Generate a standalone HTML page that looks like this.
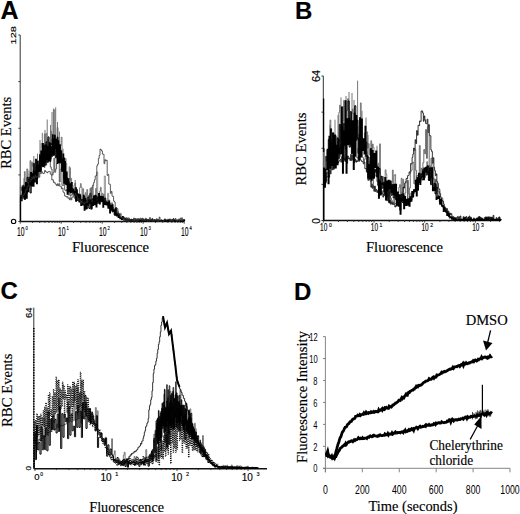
<!DOCTYPE html>
<html><head><meta charset="utf-8"><style>
html,body{margin:0;padding:0;background:#fff;width:520px;height:514px;overflow:hidden}
svg{display:block}
text{stroke:#000;stroke-width:0.15px}
</style></head><body>
<svg width="520" height="514" viewBox="0 0 520 514">
<rect width="520" height="514" fill="#fff"/>
<text x="0.6" y="19.4" font-family='"Liberation Sans", sans-serif' font-size="25" font-weight="bold" text-anchor="start" fill="#000" >A</text>
<text x="295" y="19.3" font-family='"Liberation Sans", sans-serif' font-size="24" font-weight="bold" text-anchor="start" fill="#000" >B</text>
<text x="0.5" y="298.5" font-family='"Liberation Sans", sans-serif' font-size="24" font-weight="bold" text-anchor="start" fill="#000" >C</text>
<text x="294" y="300" font-family='"Liberation Sans", sans-serif' font-size="24" font-weight="bold" text-anchor="start" fill="#000" >D</text>
<line x1="20.2" y1="35" x2="20.2" y2="221.5" stroke="#333" stroke-width="1"/>
<line x1="20.2" y1="221.5" x2="184.2" y2="221.5" stroke="#111" stroke-width="1.3"/>
<line x1="18.4" y1="35.0" x2="20.2" y2="35.0" stroke="#333" stroke-width="1"/>
<line x1="18.4" y1="81.625" x2="20.2" y2="81.625" stroke="#333" stroke-width="1"/>
<line x1="18.4" y1="128.25" x2="20.2" y2="128.25" stroke="#333" stroke-width="1"/>
<line x1="18.4" y1="174.875" x2="20.2" y2="174.875" stroke="#333" stroke-width="1"/>
<line x1="18.4" y1="221.5" x2="20.2" y2="221.5" stroke="#333" stroke-width="1"/>
<line x1="20.2" y1="221.5" x2="20.2" y2="223.7" stroke="#333" stroke-width="0.9"/>
<line x1="32.54222982222323" y1="221.5" x2="32.54222982222323" y2="223.0" stroke="#333" stroke-width="0.9"/>
<line x1="39.761971443506155" y1="221.5" x2="39.761971443506155" y2="223.0" stroke="#333" stroke-width="0.9"/>
<line x1="44.88445964444646" y1="221.5" x2="44.88445964444646" y2="223.0" stroke="#333" stroke-width="0.9"/>
<line x1="48.85777017777677" y1="221.5" x2="48.85777017777677" y2="223.0" stroke="#333" stroke-width="0.9"/>
<line x1="52.10420126572939" y1="221.5" x2="52.10420126572939" y2="223.0" stroke="#333" stroke-width="0.9"/>
<line x1="54.84901964058453" y1="221.5" x2="54.84901964058453" y2="223.0" stroke="#333" stroke-width="0.9"/>
<line x1="57.22668946666968" y1="221.5" x2="57.22668946666968" y2="223.0" stroke="#333" stroke-width="0.9"/>
<line x1="59.32394288701232" y1="221.5" x2="59.32394288701232" y2="223.0" stroke="#333" stroke-width="0.9"/>
<line x1="61.2" y1="221.5" x2="61.2" y2="223.7" stroke="#333" stroke-width="0.9"/>
<line x1="73.54222982222323" y1="221.5" x2="73.54222982222323" y2="223.0" stroke="#333" stroke-width="0.9"/>
<line x1="80.76197144350616" y1="221.5" x2="80.76197144350616" y2="223.0" stroke="#333" stroke-width="0.9"/>
<line x1="85.88445964444647" y1="221.5" x2="85.88445964444647" y2="223.0" stroke="#333" stroke-width="0.9"/>
<line x1="89.85777017777677" y1="221.5" x2="89.85777017777677" y2="223.0" stroke="#333" stroke-width="0.9"/>
<line x1="93.10420126572939" y1="221.5" x2="93.10420126572939" y2="223.0" stroke="#333" stroke-width="0.9"/>
<line x1="95.84901964058453" y1="221.5" x2="95.84901964058453" y2="223.0" stroke="#333" stroke-width="0.9"/>
<line x1="98.22668946666968" y1="221.5" x2="98.22668946666968" y2="223.0" stroke="#333" stroke-width="0.9"/>
<line x1="100.32394288701232" y1="221.5" x2="100.32394288701232" y2="223.0" stroke="#333" stroke-width="0.9"/>
<line x1="102.2" y1="221.5" x2="102.2" y2="223.7" stroke="#333" stroke-width="0.9"/>
<line x1="114.54222982222323" y1="221.5" x2="114.54222982222323" y2="223.0" stroke="#333" stroke-width="0.9"/>
<line x1="121.76197144350617" y1="221.5" x2="121.76197144350617" y2="223.0" stroke="#333" stroke-width="0.9"/>
<line x1="126.88445964444647" y1="221.5" x2="126.88445964444647" y2="223.0" stroke="#333" stroke-width="0.9"/>
<line x1="130.85777017777676" y1="221.5" x2="130.85777017777676" y2="223.0" stroke="#333" stroke-width="0.9"/>
<line x1="134.1042012657294" y1="221.5" x2="134.1042012657294" y2="223.0" stroke="#333" stroke-width="0.9"/>
<line x1="136.84901964058452" y1="221.5" x2="136.84901964058452" y2="223.0" stroke="#333" stroke-width="0.9"/>
<line x1="139.22668946666968" y1="221.5" x2="139.22668946666968" y2="223.0" stroke="#333" stroke-width="0.9"/>
<line x1="141.32394288701232" y1="221.5" x2="141.32394288701232" y2="223.0" stroke="#333" stroke-width="0.9"/>
<line x1="143.2" y1="221.5" x2="143.2" y2="223.7" stroke="#333" stroke-width="0.9"/>
<line x1="155.54222982222322" y1="221.5" x2="155.54222982222322" y2="223.0" stroke="#333" stroke-width="0.9"/>
<line x1="162.76197144350616" y1="221.5" x2="162.76197144350616" y2="223.0" stroke="#333" stroke-width="0.9"/>
<line x1="167.88445964444645" y1="221.5" x2="167.88445964444645" y2="223.0" stroke="#333" stroke-width="0.9"/>
<line x1="171.85777017777676" y1="221.5" x2="171.85777017777676" y2="223.0" stroke="#333" stroke-width="0.9"/>
<line x1="175.1042012657294" y1="221.5" x2="175.1042012657294" y2="223.0" stroke="#333" stroke-width="0.9"/>
<line x1="177.84901964058452" y1="221.5" x2="177.84901964058452" y2="223.0" stroke="#333" stroke-width="0.9"/>
<line x1="180.22668946666968" y1="221.5" x2="180.22668946666968" y2="223.0" stroke="#333" stroke-width="0.9"/>
<line x1="182.3239428870123" y1="221.5" x2="182.3239428870123" y2="223.0" stroke="#333" stroke-width="0.9"/>
<line x1="184.2" y1="221.5" x2="184.2" y2="223.7" stroke="#333" stroke-width="0.9"/>
<text transform="translate(15.9,44.5) rotate(-90)" font-family='"Liberation Sans", sans-serif' font-size="8" font-weight="normal" text-anchor="start" fill="#000" textLength="18.5" lengthAdjust="spacingAndGlyphs" >128</text>
<ellipse cx="13.6" cy="221.4" rx="2.2" ry="2.1" fill="none" stroke="#000" stroke-width="1.1"/>
<text transform="translate(11.4,168.8) rotate(-90)" font-family='"Liberation Serif", serif' font-size="14.5" font-weight="normal" text-anchor="start" fill="#000" textLength="72" lengthAdjust="spacingAndGlyphs" >RBC Events</text>
<text x="17.0" y="235.6" font-family='"Liberation Sans", sans-serif' font-size="12.5" font-weight="normal" text-anchor="start" fill="#000" textLength="7.6" lengthAdjust="spacingAndGlyphs" >10</text>
<text x="25.6" y="229.6" font-family='"Liberation Sans", sans-serif' font-size="5.5" font-weight="normal" text-anchor="start" fill="#000" textLength="2.3" lengthAdjust="spacingAndGlyphs" >0</text>
<text x="58.0" y="235.6" font-family='"Liberation Sans", sans-serif' font-size="12.5" font-weight="normal" text-anchor="start" fill="#000" textLength="7.6" lengthAdjust="spacingAndGlyphs" >10</text>
<text x="66.60000000000001" y="229.6" font-family='"Liberation Sans", sans-serif' font-size="5.5" font-weight="normal" text-anchor="start" fill="#000" textLength="2.3" lengthAdjust="spacingAndGlyphs" >1</text>
<text x="99.0" y="235.6" font-family='"Liberation Sans", sans-serif' font-size="12.5" font-weight="normal" text-anchor="start" fill="#000" textLength="7.6" lengthAdjust="spacingAndGlyphs" >10</text>
<text x="107.60000000000001" y="229.6" font-family='"Liberation Sans", sans-serif' font-size="5.5" font-weight="normal" text-anchor="start" fill="#000" textLength="2.3" lengthAdjust="spacingAndGlyphs" >2</text>
<text x="140.0" y="235.6" font-family='"Liberation Sans", sans-serif' font-size="12.5" font-weight="normal" text-anchor="start" fill="#000" textLength="7.6" lengthAdjust="spacingAndGlyphs" >10</text>
<text x="148.6" y="229.6" font-family='"Liberation Sans", sans-serif' font-size="5.5" font-weight="normal" text-anchor="start" fill="#000" textLength="2.3" lengthAdjust="spacingAndGlyphs" >3</text>
<text x="181.0" y="235.6" font-family='"Liberation Sans", sans-serif' font-size="12.5" font-weight="normal" text-anchor="start" fill="#000" textLength="7.6" lengthAdjust="spacingAndGlyphs" >10</text>
<text x="189.6" y="229.6" font-family='"Liberation Sans", sans-serif' font-size="5.5" font-weight="normal" text-anchor="start" fill="#000" textLength="2.3" lengthAdjust="spacingAndGlyphs" >4</text>
<text x="72" y="252" font-family='"Liberation Serif", serif' font-size="14" font-weight="normal" text-anchor="start" fill="#000" textLength="77" lengthAdjust="spacingAndGlyphs" >Fluorescence</text>
<line x1="323.3" y1="76" x2="323.3" y2="220.5" stroke="#333" stroke-width="1"/>
<line x1="323.3" y1="220.5" x2="500.5" y2="220.5" stroke="#111" stroke-width="1.3"/>
<line x1="321.5" y1="76.0" x2="323.3" y2="76.0" stroke="#333" stroke-width="1"/>
<line x1="321.5" y1="112.125" x2="323.3" y2="112.125" stroke="#333" stroke-width="1"/>
<line x1="321.5" y1="148.25" x2="323.3" y2="148.25" stroke="#333" stroke-width="1"/>
<line x1="321.5" y1="184.375" x2="323.3" y2="184.375" stroke="#333" stroke-width="1"/>
<line x1="321.5" y1="220.5" x2="323.3" y2="220.5" stroke="#333" stroke-width="1"/>
<line x1="323.3" y1="220.5" x2="323.3" y2="222.7" stroke="#333" stroke-width="0.9"/>
<line x1="338.56222078016384" y1="220.5" x2="338.56222078016384" y2="222.0" stroke="#333" stroke-width="0.9"/>
<line x1="347.4900476142869" y1="220.5" x2="347.4900476142869" y2="222.0" stroke="#333" stroke-width="0.9"/>
<line x1="353.8244415603277" y1="220.5" x2="353.8244415603277" y2="222.0" stroke="#333" stroke-width="0.9"/>
<line x1="358.73777921983617" y1="220.5" x2="358.73777921983617" y2="222.0" stroke="#333" stroke-width="0.9"/>
<line x1="362.75226839445077" y1="220.5" x2="362.75226839445077" y2="222.0" stroke="#333" stroke-width="0.9"/>
<line x1="366.14647062872285" y1="220.5" x2="366.14647062872285" y2="222.0" stroke="#333" stroke-width="0.9"/>
<line x1="369.08666234049156" y1="220.5" x2="369.08666234049156" y2="222.0" stroke="#333" stroke-width="0.9"/>
<line x1="371.6800952285738" y1="220.5" x2="371.6800952285738" y2="222.0" stroke="#333" stroke-width="0.9"/>
<line x1="374.0" y1="220.5" x2="374.0" y2="222.7" stroke="#333" stroke-width="0.9"/>
<line x1="389.26222078016383" y1="220.5" x2="389.26222078016383" y2="222.0" stroke="#333" stroke-width="0.9"/>
<line x1="398.19004761428687" y1="220.5" x2="398.19004761428687" y2="222.0" stroke="#333" stroke-width="0.9"/>
<line x1="404.5244415603277" y1="220.5" x2="404.5244415603277" y2="222.0" stroke="#333" stroke-width="0.9"/>
<line x1="409.43777921983616" y1="220.5" x2="409.43777921983616" y2="222.0" stroke="#333" stroke-width="0.9"/>
<line x1="413.45226839445075" y1="220.5" x2="413.45226839445075" y2="222.0" stroke="#333" stroke-width="0.9"/>
<line x1="416.84647062872284" y1="220.5" x2="416.84647062872284" y2="222.0" stroke="#333" stroke-width="0.9"/>
<line x1="419.78666234049155" y1="220.5" x2="419.78666234049155" y2="222.0" stroke="#333" stroke-width="0.9"/>
<line x1="422.3800952285738" y1="220.5" x2="422.3800952285738" y2="222.0" stroke="#333" stroke-width="0.9"/>
<line x1="424.70000000000005" y1="220.5" x2="424.70000000000005" y2="222.7" stroke="#333" stroke-width="0.9"/>
<line x1="439.9622207801639" y1="220.5" x2="439.9622207801639" y2="222.0" stroke="#333" stroke-width="0.9"/>
<line x1="448.8900476142869" y1="220.5" x2="448.8900476142869" y2="222.0" stroke="#333" stroke-width="0.9"/>
<line x1="455.2244415603277" y1="220.5" x2="455.2244415603277" y2="222.0" stroke="#333" stroke-width="0.9"/>
<line x1="460.13777921983615" y1="220.5" x2="460.13777921983615" y2="222.0" stroke="#333" stroke-width="0.9"/>
<line x1="464.15226839445074" y1="220.5" x2="464.15226839445074" y2="222.0" stroke="#333" stroke-width="0.9"/>
<line x1="467.5464706287229" y1="220.5" x2="467.5464706287229" y2="222.0" stroke="#333" stroke-width="0.9"/>
<line x1="470.48666234049153" y1="220.5" x2="470.48666234049153" y2="222.0" stroke="#333" stroke-width="0.9"/>
<line x1="473.0800952285738" y1="220.5" x2="473.0800952285738" y2="222.0" stroke="#333" stroke-width="0.9"/>
<line x1="475.40000000000003" y1="220.5" x2="475.40000000000003" y2="222.7" stroke="#333" stroke-width="0.9"/>
<line x1="490.66222078016386" y1="220.5" x2="490.66222078016386" y2="222.0" stroke="#333" stroke-width="0.9"/>
<line x1="499.5900476142869" y1="220.5" x2="499.5900476142869" y2="222.0" stroke="#333" stroke-width="0.9"/>
<text transform="translate(320.1,82) rotate(-90)" font-family='"Liberation Sans", sans-serif' font-size="11" font-weight="normal" text-anchor="start" fill="#000" >64</text>
<text transform="translate(320.1,223.8) rotate(-90)" font-family='"Liberation Sans", sans-serif' font-size="10" font-weight="normal" text-anchor="start" fill="#000" >0</text>
<text transform="translate(306.0,185.5) rotate(-90)" font-family='"Liberation Serif", serif' font-size="14.5" font-weight="normal" text-anchor="start" fill="#000" textLength="73" lengthAdjust="spacingAndGlyphs" >RBC Events</text>
<text x="320.1" y="230.8" font-family='"Liberation Sans", sans-serif' font-size="10" font-weight="normal" text-anchor="start" fill="#000" textLength="7.2" lengthAdjust="spacingAndGlyphs" >10</text>
<text x="328.90000000000003" y="226.7" font-family='"Liberation Sans", sans-serif' font-size="6" font-weight="normal" text-anchor="start" fill="#000" textLength="2.8" lengthAdjust="spacingAndGlyphs" >0</text>
<text x="370.8" y="230.8" font-family='"Liberation Sans", sans-serif' font-size="10" font-weight="normal" text-anchor="start" fill="#000" textLength="7.2" lengthAdjust="spacingAndGlyphs" >10</text>
<text x="379.6" y="226.7" font-family='"Liberation Sans", sans-serif' font-size="6" font-weight="normal" text-anchor="start" fill="#000" textLength="2.8" lengthAdjust="spacingAndGlyphs" >1</text>
<text x="421.50000000000006" y="230.8" font-family='"Liberation Sans", sans-serif' font-size="10" font-weight="normal" text-anchor="start" fill="#000" textLength="7.2" lengthAdjust="spacingAndGlyphs" >10</text>
<text x="430.30000000000007" y="226.7" font-family='"Liberation Sans", sans-serif' font-size="6" font-weight="normal" text-anchor="start" fill="#000" textLength="2.8" lengthAdjust="spacingAndGlyphs" >2</text>
<text x="472.20000000000005" y="230.8" font-family='"Liberation Sans", sans-serif' font-size="10" font-weight="normal" text-anchor="start" fill="#000" textLength="7.2" lengthAdjust="spacingAndGlyphs" >10</text>
<text x="481.00000000000006" y="226.7" font-family='"Liberation Sans", sans-serif' font-size="6" font-weight="normal" text-anchor="start" fill="#000" textLength="2.8" lengthAdjust="spacingAndGlyphs" >3</text>
<text x="366" y="251.8" font-family='"Liberation Serif", serif' font-size="14" font-weight="normal" text-anchor="start" fill="#000" textLength="77" lengthAdjust="spacingAndGlyphs" >Fluorescence</text>
<line x1="33.8" y1="307.6" x2="33.8" y2="468.8" stroke="#333" stroke-width="1"/>
<line x1="33.8" y1="468.8" x2="267" y2="468.8" stroke="#111" stroke-width="1.4"/>
<line x1="35.0" y1="468.8" x2="35.0" y2="471.0" stroke="#333" stroke-width="0.9"/>
<line x1="56.37312969214267" y1="468.8" x2="56.37312969214267" y2="470.1" stroke="#333" stroke-width="0.9"/>
<line x1="68.87560908509603" y1="468.8" x2="68.87560908509603" y2="470.1" stroke="#333" stroke-width="0.9"/>
<line x1="77.74625938428534" y1="468.8" x2="77.74625938428534" y2="470.1" stroke="#333" stroke-width="0.9"/>
<line x1="84.62687030785733" y1="468.8" x2="84.62687030785733" y2="470.1" stroke="#333" stroke-width="0.9"/>
<line x1="90.2487387772387" y1="468.8" x2="90.2487387772387" y2="470.1" stroke="#333" stroke-width="0.9"/>
<line x1="95.00196084101223" y1="468.8" x2="95.00196084101223" y2="470.1" stroke="#333" stroke-width="0.9"/>
<line x1="99.11938907642799" y1="468.8" x2="99.11938907642799" y2="470.1" stroke="#333" stroke-width="0.9"/>
<line x1="102.75121817019206" y1="468.8" x2="102.75121817019206" y2="470.1" stroke="#333" stroke-width="0.9"/>
<line x1="106.0" y1="468.8" x2="106.0" y2="471.0" stroke="#333" stroke-width="0.9"/>
<line x1="127.37312969214267" y1="468.8" x2="127.37312969214267" y2="470.1" stroke="#333" stroke-width="0.9"/>
<line x1="139.87560908509602" y1="468.8" x2="139.87560908509602" y2="470.1" stroke="#333" stroke-width="0.9"/>
<line x1="148.74625938428534" y1="468.8" x2="148.74625938428534" y2="470.1" stroke="#333" stroke-width="0.9"/>
<line x1="155.62687030785733" y1="468.8" x2="155.62687030785733" y2="470.1" stroke="#333" stroke-width="0.9"/>
<line x1="161.2487387772387" y1="468.8" x2="161.2487387772387" y2="470.1" stroke="#333" stroke-width="0.9"/>
<line x1="166.00196084101225" y1="468.8" x2="166.00196084101225" y2="470.1" stroke="#333" stroke-width="0.9"/>
<line x1="170.11938907642798" y1="468.8" x2="170.11938907642798" y2="470.1" stroke="#333" stroke-width="0.9"/>
<line x1="173.75121817019206" y1="468.8" x2="173.75121817019206" y2="470.1" stroke="#333" stroke-width="0.9"/>
<line x1="177.0" y1="468.8" x2="177.0" y2="471.0" stroke="#333" stroke-width="0.9"/>
<line x1="198.37312969214267" y1="468.8" x2="198.37312969214267" y2="470.1" stroke="#333" stroke-width="0.9"/>
<line x1="210.87560908509604" y1="468.8" x2="210.87560908509604" y2="470.1" stroke="#333" stroke-width="0.9"/>
<line x1="219.74625938428534" y1="468.8" x2="219.74625938428534" y2="470.1" stroke="#333" stroke-width="0.9"/>
<line x1="226.62687030785733" y1="468.8" x2="226.62687030785733" y2="470.1" stroke="#333" stroke-width="0.9"/>
<line x1="232.2487387772387" y1="468.8" x2="232.2487387772387" y2="470.1" stroke="#333" stroke-width="0.9"/>
<line x1="237.00196084101225" y1="468.8" x2="237.00196084101225" y2="470.1" stroke="#333" stroke-width="0.9"/>
<line x1="241.119389076428" y1="468.8" x2="241.119389076428" y2="470.1" stroke="#333" stroke-width="0.9"/>
<line x1="244.75121817019206" y1="468.8" x2="244.75121817019206" y2="470.1" stroke="#333" stroke-width="0.9"/>
<line x1="248.0" y1="468.8" x2="248.0" y2="471.0" stroke="#333" stroke-width="0.9"/>
<text transform="translate(31.6,318) rotate(-90)" font-family='"Liberation Sans", sans-serif' font-size="9" font-weight="normal" text-anchor="start" fill="#000" textLength="10.5" lengthAdjust="spacingAndGlyphs" >64</text>
<text transform="translate(31,470.5) rotate(-90)" font-family='"Liberation Sans", sans-serif' font-size="8" font-weight="normal" text-anchor="start" fill="#000" >0</text>
<text transform="translate(12.4,427) rotate(-90)" font-family='"Liberation Serif", serif' font-size="14.5" font-weight="normal" text-anchor="start" fill="#000" textLength="73.4" lengthAdjust="spacingAndGlyphs" >RBC Events</text>
<text x="34.3" y="480" font-family='"Liberation Sans", sans-serif' font-size="9.5" font-weight="normal" text-anchor="start" fill="#000" >0</text>
<text x="40.2" y="476" font-family='"Liberation Sans", sans-serif' font-size="5" font-weight="normal" text-anchor="start" fill="#000" >0</text>
<text x="100.4" y="480.5" font-family='"Liberation Sans", sans-serif' font-size="10" font-weight="normal" text-anchor="start" fill="#000" >10</text>
<text x="115.2" y="476.3" font-family='"Liberation Sans", sans-serif' font-size="5.5" font-weight="normal" text-anchor="start" fill="#000" >1</text>
<text x="171.3" y="480.5" font-family='"Liberation Sans", sans-serif' font-size="10" font-weight="normal" text-anchor="start" fill="#000" >10</text>
<text x="186.10000000000002" y="476.3" font-family='"Liberation Sans", sans-serif' font-size="5.5" font-weight="normal" text-anchor="start" fill="#000" >2</text>
<text x="241.7" y="480.5" font-family='"Liberation Sans", sans-serif' font-size="10" font-weight="normal" text-anchor="start" fill="#000" >10</text>
<text x="256.5" y="476.3" font-family='"Liberation Sans", sans-serif' font-size="5.5" font-weight="normal" text-anchor="start" fill="#000" >3</text>
<text x="89.3" y="512.4" font-family='"Liberation Serif", serif' font-size="14" font-weight="normal" text-anchor="start" fill="#000" textLength="74.7" lengthAdjust="spacingAndGlyphs" >Fluorescence</text>
<line x1="325.4" y1="336.6" x2="325.4" y2="472.3" stroke="#777" stroke-width="0.9"/>
<line x1="322.9" y1="468.3" x2="510" y2="468.3" stroke="#777" stroke-width="0.9"/>
<line x1="323.0" y1="468.3" x2="325.4" y2="468.3" stroke="#777" stroke-width="0.9"/>
<text x="317.6" y="472.50" font-family='"Liberation Sans", sans-serif' font-size="11.5" text-anchor="end" style="stroke:none" transform="translate(317.6,0) scale(0.66,1) translate(-317.6,0)">0</text>
<line x1="323.0" y1="446.35" x2="325.4" y2="446.35" stroke="#777" stroke-width="0.9"/>
<text x="317.6" y="450.55" font-family='"Liberation Sans", sans-serif' font-size="11.5" text-anchor="end" style="stroke:none" transform="translate(317.6,0) scale(0.66,1) translate(-317.6,0)">2</text>
<line x1="323.0" y1="424.40000000000003" x2="325.4" y2="424.40000000000003" stroke="#777" stroke-width="0.9"/>
<text x="317.6" y="428.60" font-family='"Liberation Sans", sans-serif' font-size="11.5" text-anchor="end" style="stroke:none" transform="translate(317.6,0) scale(0.66,1) translate(-317.6,0)">4</text>
<line x1="323.0" y1="402.45000000000005" x2="325.4" y2="402.45000000000005" stroke="#777" stroke-width="0.9"/>
<text x="317.6" y="406.65" font-family='"Liberation Sans", sans-serif' font-size="11.5" text-anchor="end" style="stroke:none" transform="translate(317.6,0) scale(0.66,1) translate(-317.6,0)">6</text>
<line x1="323.0" y1="380.5" x2="325.4" y2="380.5" stroke="#777" stroke-width="0.9"/>
<text x="317.6" y="384.70" font-family='"Liberation Sans", sans-serif' font-size="11.5" text-anchor="end" style="stroke:none" transform="translate(317.6,0) scale(0.66,1) translate(-317.6,0)">8</text>
<line x1="323.0" y1="358.55" x2="325.4" y2="358.55" stroke="#777" stroke-width="0.9"/>
<text x="317.6" y="362.75" font-family='"Liberation Sans", sans-serif' font-size="11.5" text-anchor="end" style="stroke:none" transform="translate(317.6,0) scale(0.66,1) translate(-317.6,0)">10</text>
<line x1="323.0" y1="336.6" x2="325.4" y2="336.6" stroke="#777" stroke-width="0.9"/>
<text x="317.6" y="340.80" font-family='"Liberation Sans", sans-serif' font-size="11.5" text-anchor="end" style="stroke:none" transform="translate(317.6,0) scale(0.66,1) translate(-317.6,0)">12</text>
<line x1="325.4" y1="468.3" x2="325.4" y2="472.3" stroke="#777" stroke-width="0.9"/>
<text x="325.40" y="494.3" font-family='"Liberation Sans", sans-serif' font-size="12.5" text-anchor="middle" style="stroke:none" transform="translate(325.40,0) scale(0.7,1) translate(-325.40,0)">0</text>
<line x1="362.32" y1="468.3" x2="362.32" y2="472.3" stroke="#777" stroke-width="0.9"/>
<text x="362.32" y="494.3" font-family='"Liberation Sans", sans-serif' font-size="12.5" text-anchor="middle" style="stroke:none" transform="translate(362.32,0) scale(0.7,1) translate(-362.32,0)">200</text>
<line x1="399.24" y1="468.3" x2="399.24" y2="472.3" stroke="#777" stroke-width="0.9"/>
<text x="399.24" y="494.3" font-family='"Liberation Sans", sans-serif' font-size="12.5" text-anchor="middle" style="stroke:none" transform="translate(399.24,0) scale(0.7,1) translate(-399.24,0)">400</text>
<line x1="436.15999999999997" y1="468.3" x2="436.15999999999997" y2="472.3" stroke="#777" stroke-width="0.9"/>
<text x="436.16" y="494.3" font-family='"Liberation Sans", sans-serif' font-size="12.5" text-anchor="middle" style="stroke:none" transform="translate(436.16,0) scale(0.7,1) translate(-436.16,0)">600</text>
<line x1="473.08" y1="468.3" x2="473.08" y2="472.3" stroke="#777" stroke-width="0.9"/>
<text x="473.08" y="494.3" font-family='"Liberation Sans", sans-serif' font-size="12.5" text-anchor="middle" style="stroke:none" transform="translate(473.08,0) scale(0.7,1) translate(-473.08,0)">800</text>
<line x1="510.0" y1="468.3" x2="510.0" y2="472.3" stroke="#777" stroke-width="0.9"/>
<text x="510.00" y="494.3" font-family='"Liberation Sans", sans-serif' font-size="12.5" text-anchor="middle" style="stroke:none" transform="translate(510.00,0) scale(0.7,1) translate(-510.00,0)">1000</text>
<text transform="translate(306.8,463) rotate(-90)" font-family='"Liberation Serif", serif' font-size="14.7" font-weight="normal" text-anchor="start" fill="#000" textLength="132" lengthAdjust="spacingAndGlyphs" >Fluorescence Intensity</text>
<text x="368.5" y="510.7" font-family='"Liberation Serif", serif' font-size="15" font-weight="normal" text-anchor="start" fill="#000" textLength="89" lengthAdjust="spacingAndGlyphs" >Time (seconds)</text>
<text x="465.7" y="324.6" font-family='"Liberation Serif", serif' font-size="14.5" font-weight="normal" text-anchor="start" fill="#000" textLength="42" lengthAdjust="spacingAndGlyphs" >DMSO</text>
<text x="429.4" y="450.1" font-family='"Liberation Serif", serif' font-size="14" font-weight="normal" text-anchor="start" fill="#000" textLength="73.5" lengthAdjust="spacingAndGlyphs" >Chelerythrine</text>
<text x="429.4" y="465.4" font-family='"Liberation Serif", serif' font-size="14" font-weight="normal" text-anchor="start" fill="#000" textLength="43.7" lengthAdjust="spacingAndGlyphs" >chloride</text>
<path d="M20.40,221.30 L20.40,186.89 L21.20,186.89 L21.20,190.23 L22.00,190.23 L22.00,185.45 L22.80,185.45 L22.80,193.90 L23.60,193.90 L23.60,184.58 L24.40,184.58 L24.40,171.61 L25.20,171.61 L25.20,186.73 L26.00,186.73 L26.00,188.78 L26.80,188.78 L26.80,168.93 L27.60,168.93 L27.60,186.29 L28.40,186.29 L28.40,184.24 L29.20,184.24 L29.20,174.28 L30.00,174.28 L30.00,160.66 L30.80,160.66 L30.80,181.22 L31.60,181.22 L31.60,162.11 L32.40,162.11 L32.40,166.15 L33.20,166.15 L33.20,176.00 L34.00,176.00 L34.00,175.06 L34.80,175.06 L34.80,174.61 L35.60,174.61 L35.60,170.40 L36.40,170.40 L36.40,167.28 L37.20,167.28 L37.20,160.47 L38.00,160.47 L38.00,164.04 L38.80,164.04 L38.80,167.31 L39.60,167.31 L39.60,163.70 L40.40,163.70 L40.40,157.23 L41.20,157.23 L41.20,143.58 L42.00,143.58 L42.00,148.32 L42.80,148.32 L42.80,152.90 L43.60,152.90 L43.60,157.77 L44.40,157.77 L44.40,133.90 L45.20,133.90 L45.20,153.42 L46.00,153.42 L46.00,133.58 L46.80,133.58 L46.80,142.36 L47.60,142.36 L47.60,139.11 L48.40,139.11 L48.40,144.21 L49.20,144.21 L49.20,147.38 L50.00,147.38 L50.00,147.43 L50.80,147.43 L50.80,131.33 L51.60,131.33 L51.60,144.58 L52.40,144.58 L52.40,147.92 L53.20,147.92 L53.20,146.45 L54.00,146.45 L54.00,109.81 L54.80,109.81 L54.80,148.41 L55.60,148.41 L55.60,148.68 L56.40,148.68 L56.40,142.86 L57.20,142.86 L57.20,127.52 L58.00,127.52 L58.00,148.72 L58.80,148.72 L58.80,141.09 L59.60,141.09 L59.60,153.42 L60.40,153.42 L60.40,145.64 L61.20,145.64 L61.20,137.20 L62.00,137.20 L62.00,159.85 L62.80,159.85 L62.80,162.90 L63.60,162.90 L63.60,161.05 L64.40,161.05 L64.40,170.74 L65.20,170.74 L65.20,158.53 L66.00,158.53 L66.00,180.83 L66.80,180.83 L66.80,182.50 L67.60,182.50 L67.60,183.93 L68.40,183.93 L68.40,182.85 L69.20,182.85 L69.20,166.84 L70.00,166.84 L70.00,180.14 L70.80,180.14 L70.80,178.44 L71.60,178.44 L71.60,190.55 L72.40,190.55 L72.40,190.92 L73.20,190.92 L73.20,189.40 L74.00,189.40 L74.00,185.18 L74.80,185.18 L74.80,183.01 L75.60,183.01 L75.60,188.67 L76.40,188.67 L76.40,194.69 L77.20,194.69 L77.20,197.10 L78.00,197.10 L78.00,194.24 L78.80,194.24 L78.80,197.36 L79.60,197.36 L79.60,187.66 L80.40,187.66 L80.40,183.64 L81.20,183.64 L81.20,187.23 L82.00,187.23 L82.00,200.76 L82.80,200.76 L82.80,188.78 L83.60,188.78 L83.60,202.10 L84.40,202.10 L84.40,202.24 L85.20,202.24 L85.20,192.78 L86.00,192.78 L86.00,200.87 L86.80,200.87 L86.80,189.56 L87.60,189.56 L87.60,203.20 L88.40,203.20 L88.40,195.51 L89.20,195.51 L89.20,196.70 L90.00,196.70 L90.00,188.12 L90.80,188.12 L90.80,190.75 L91.60,190.75 L91.60,202.90 L92.40,202.90 L92.40,186.08 L93.20,186.08 L93.20,199.34 L94.00,199.34 L94.00,200.80 L94.80,200.80 L94.80,201.95 L95.60,201.95 L95.60,188.58 L96.40,188.58 L96.40,192.31 L97.20,192.31 L97.20,200.72 L98.00,200.72 L98.00,200.31 L98.80,200.31 L98.80,198.91 L99.60,198.91 L99.60,191.26 L100.40,191.26 L100.40,187.36 L101.20,187.36 L101.20,199.30 L102.00,199.30 L102.00,193.32 L102.80,193.32 L102.80,200.94 L103.60,200.94 L103.60,194.29 L104.40,194.29 L104.40,200.25 L105.20,200.25 L105.20,202.52 L106.00,202.52 L106.00,203.40 L106.80,203.40 L106.80,200.11 L107.60,200.11 L107.60,202.19 L108.40,202.19 L108.40,199.90 L109.20,199.90 L109.20,205.10 L110.00,205.10 L110.00,203.15 L110.80,203.15 L110.80,206.69 L111.60,206.69 L111.60,202.69 L112.40,202.69 L112.40,210.08 L113.20,210.08 L113.20,207.50 L114.00,207.50 L114.00,208.57 L114.80,208.57 L114.80,212.68 L115.60,212.68 L115.60,208.59 L116.40,208.59 L116.40,211.08 L117.20,211.08 L117.20,208.64 L118.00,208.64 L118.00,215.34 L118.80,215.34 L118.80,215.29 L119.60,215.29 L119.60,213.39 L120.40,213.39 L120.40,213.45 L121.20,213.45 L121.20,215.91 L122.00,215.91 L122.00,217.75 L122.80,217.75 L122.80,216.82 L123.60,216.82 L123.60,218.42 L124.40,218.42 L124.40,218.71 L125.20,218.71 L125.20,218.50 L126.00,218.50 L126.00,217.57 L126.80,217.57 L126.80,219.90 L127.60,219.90 L127.60,218.70 L128.40,218.70 L128.40,217.80 L129.20,217.80 L129.20,219.92 L130.00,219.92 L130.00,220.25 L130.80,220.25 L130.80,219.45 L131.60,219.45 L131.60,220.42 L132.40,220.42 L132.40,220.43 L133.20,220.43 L133.20,219.75 L134.00,219.75 L134.00,219.18 L134.80,219.18 L134.80,218.72 L135.60,218.72 L135.60,220.45 L136.40,220.45 L136.40,220.36 L137.20,220.36 L137.20,219.98 L138.00,219.98 L138.00,220.47 L138.80,220.47 L138.80,220.11 L139.60,220.11 L139.60,220.27 L140.40,220.27 L140.40,220.48 L141.20,220.48 L141.20,220.01 L142.00,220.01 L142.00,218.21 L142.80,218.21 L142.80,220.49 L143.60,220.49 L143.60,219.59 L144.40,219.59 L144.40,220.40 L145.20,220.40 L145.20,218.19 L146.00,218.19 L146.00,218.93 L146.80,218.93 L146.80,220.41 L147.60,220.41 L147.60,220.53 L148.40,220.53 L148.40,220.30 L149.20,220.30 L149.20,219.43 L150.00,219.43 L150.00,220.38 L150.80,220.38 L150.80,220.35 L151.60,220.35 L151.60,220.54 L152.40,220.54 L152.40,220.36 L153.20,220.36 L153.20,220.19 L154.00,220.19 L154.00,220.56 L154.80,220.56 L154.80,220.57 L155.60,220.57 L155.60,220.58 L156.40,220.58 L156.40,218.99 L157.20,218.99 L157.20,220.24 L158.00,220.24 L158.00,220.59 L158.80,220.59 L158.80,220.14 L159.60,220.14 L159.60,220.60 L160.40,220.60 L160.40,220.34 L161.20,220.34 L161.20,219.46 L162.00,219.46 L162.00,220.40 L162.80,220.40 L162.80,220.62 L163.60,220.62 L163.60,220.35 L164.40,220.35 L164.40,220.60 L165.20,220.60 L165.20,220.33 L166.00,220.33 L166.00,220.64 L166.80,220.64 L166.80,220.65 L167.60,220.65 L167.60,220.40 L168.40,220.40 L168.40,219.84 L169.20,219.84 L169.20,219.07 L170.00,219.07 L170.00,220.63 L170.80,220.63 L170.80,220.10 L171.60,220.10 L171.60,220.68 L172.40,220.68 L172.40,219.99 L173.20,219.99 L173.20,220.61 L174.00,220.61 L174.00,220.44 L174.80,220.44 L174.80,219.48 L175.60,219.48 L175.60,220.33 L176.40,220.33 L176.40,220.09 L177.20,220.09 L177.20,220.59 L178.00,220.59 L178.00,220.72 L178.80,220.72 L178.80,220.33 L179.60,220.33 L179.60,219.97 L180.40,219.97 L180.40,220.64 L181.20,220.64 L181.20,220.67 L182.00,220.67 L182.00,220.70 L182.80,220.70 L182.80,220.35 L183.60,220.35 L183.60,220.74 L184.40,220.74 L184.00,221.30" fill="none" stroke="#666" stroke-width="0.85" stroke-linejoin="miter" />
<line x1="55.7" y1="107.3" x2="55.7" y2="148.51" stroke="#666" stroke-width="0.9"/>
<line x1="52" y1="112" x2="52" y2="147.76393442622953" stroke="#666" stroke-width="0.9"/>
<line x1="47.2" y1="119.5" x2="47.2" y2="151.85" stroke="#666" stroke-width="0.9"/>
<line x1="53.4" y1="108.6" x2="53.4" y2="148.04622950819675" stroke="#666" stroke-width="0.9"/>
<line x1="57.5" y1="122" x2="57.5" y2="149.70289855072463" stroke="#666" stroke-width="0.9"/>
<line x1="42.3" y1="132.8" x2="42.3" y2="161.2" stroke="#666" stroke-width="0.9"/>
<line x1="37.5" y1="153.5" x2="37.5" y2="170.8125" stroke="#666" stroke-width="0.9"/>
<line x1="33.8" y1="156" x2="33.8" y2="176.97599039615847" stroke="#666" stroke-width="0.9"/>
<line x1="29" y1="170.6" x2="29" y2="184.70186335403727" stroke="#666" stroke-width="0.9"/>
<line x1="24" y1="178" x2="24" y2="192.89583333333334" stroke="#666" stroke-width="0.9"/>
<line x1="59.4" y1="131.6" x2="59.4" y2="152.44615384615383" stroke="#666" stroke-width="0.9"/>
<line x1="63" y1="148.7" x2="63" y2="161.8" stroke="#666" stroke-width="0.9"/>
<line x1="66.7" y1="163" x2="66.7" y2="181.45833333333334" stroke="#666" stroke-width="0.9"/>
<line x1="70.3" y1="168" x2="70.3" y2="188.39" stroke="#666" stroke-width="0.9"/>
<line x1="75.2" y1="180" x2="75.2" y2="194.7" stroke="#666" stroke-width="0.9"/>
<line x1="50.5" y1="125" x2="50.5" y2="148.53647540983607" stroke="#666" stroke-width="0.9"/>
<line x1="45" y1="130" x2="45" y2="155.79073129251702" stroke="#666" stroke-width="0.9"/>
<line x1="40" y1="140" x2="40" y2="165.65625" stroke="#666" stroke-width="0.9"/>
<path d="M90.00,203.34 L91.10,203.34 L91.10,203.02 L92.20,203.02 L92.20,202.70 L93.30,202.70 L93.30,202.38 L94.40,202.38 L94.40,202.06 L95.50,202.06 L95.50,200.33 L96.60,200.33 L96.60,172.01 L97.70,172.01 L97.70,200.39 L98.80,200.39 L98.80,198.86 L99.90,198.86 L99.90,199.72 L101.00,199.72 L101.00,200.27 L102.10,200.27 L102.10,200.82 L103.20,200.82 L103.20,194.75 L104.30,194.75 L104.30,176.07 L105.40,176.07 L105.40,201.63 L106.50,201.63 L106.50,204.05 L107.60,204.05 L107.60,193.37 L108.70,193.37 L108.70,206.25 L109.80,206.25 L109.80,205.66 L110.90,205.66 L110.90,208.59 L112.00,208.59 L112.00,209.80 L113.10,209.80 L113.10,211.01 L114.20,211.01" fill="none" stroke="#777" stroke-width="0.75" stroke-linejoin="miter" />
<path d="M20.60,200.19 L21.50,200.19 L21.50,197.07 L22.40,197.07 L22.40,194.86 L23.30,194.86 L23.30,193.67 L24.20,193.67 L24.20,191.50 L25.10,191.50 L25.10,189.59 L26.00,189.59 L26.00,187.34 L26.90,187.34 L26.90,186.75 L27.80,186.75 L27.80,184.56 L28.70,184.56 L28.70,183.88 L29.60,183.88 L29.60,181.83 L30.50,181.83 L30.50,180.71 L31.40,180.71 L31.40,178.85 L32.30,178.85 L32.30,178.55 L33.20,178.55 L33.20,177.50 L34.10,177.50 L34.10,176.48 L35.00,176.48 L35.00,176.25 L35.90,176.25 L35.90,172.69 L36.80,172.69 L36.80,171.22 L37.70,171.22 L37.70,174.60 L38.60,174.60 L38.60,169.98 L39.50,169.98 L39.50,172.66 L40.40,172.66 L40.40,170.54 L41.30,170.54 L41.30,162.27 L42.20,162.27 L42.20,160.49 L43.10,160.49 L43.10,162.03 L44.00,162.03 L44.00,167.39 L44.90,167.39 L44.90,160.59 L45.80,160.59 L45.80,165.07 L46.70,165.07 L46.70,159.03 L47.60,159.03 L47.60,162.55 L48.50,162.55 L48.50,161.10 L49.40,161.10 L49.40,152.35 L50.30,152.35 L50.30,166.98 L51.20,166.98 L51.20,169.18 L52.10,169.18 L52.10,175.02 L53.00,175.02 L53.00,172.64 L53.90,172.64 L53.90,158.34 L54.80,158.34 L54.80,172.19 L55.70,172.19 L55.70,168.86 L56.60,168.86 L56.60,163.70 L57.50,163.70 L57.50,157.45 L58.40,157.45 L58.40,156.47 L59.30,156.47 L59.30,181.94 L60.20,181.94 L60.20,169.38 L61.10,169.38 L61.10,157.23 L62.00,157.23 L62.00,185.32 L62.90,185.32 L62.90,185.36 L63.80,185.36 L63.80,169.40 L64.70,169.40 L64.70,190.10 L65.60,190.10 L65.60,190.95 L66.50,190.95 L66.50,189.61 L67.40,189.61 L67.40,191.28 L68.30,191.28 L68.30,194.87 L69.20,194.87 L69.20,187.39 L70.10,187.39 L70.10,196.14 L71.00,196.14 L71.00,194.77 L71.90,194.77 L71.90,194.96 L72.80,194.96 L72.80,192.22 L73.70,192.22 L73.70,193.39 L74.60,193.39 L74.60,198.50 L75.50,198.50 L75.50,195.50 L76.40,195.50 L76.40,197.65 L77.30,197.65 L77.30,200.57 L78.20,200.57 L78.20,199.87 L79.10,199.87 L79.10,201.47 L80.00,201.47 L80.00,200.92 L80.90,200.92 L80.90,201.90 L81.80,201.90 L81.80,202.12 L82.70,202.12 L82.70,201.90 L83.60,201.90 L83.60,202.25 L84.50,202.25 L84.50,202.72 L85.40,202.72 L85.40,201.91 L86.30,201.91 L86.30,199.92 L87.20,199.92 L87.20,203.15 L88.10,203.15 L88.10,199.85 L89.00,199.85 L89.00,203.42 L89.90,203.42 L89.90,202.33 L90.80,202.33" fill="none" stroke="#4a4a4a" stroke-width="0.9" stroke-linejoin="miter" />
<path d="M20.40,221.30 L20.40,197.28 L21.25,197.28 L21.25,200.65 L22.10,200.65 L22.10,187.50 L22.95,187.50 L22.95,196.81 L23.80,196.81 L23.80,187.42 L24.65,187.42 L24.65,199.24 L25.50,199.24 L25.50,182.61 L26.35,182.61 L26.35,198.31 L27.20,198.31 L27.20,183.86 L28.05,183.86 L28.05,191.75 L28.90,191.75 L28.90,179.52 L29.75,179.52 L29.75,184.96 L30.60,184.96 L30.60,172.45 L31.45,172.45 L31.45,185.88 L32.30,185.88 L32.30,173.89 L33.15,173.89 L33.15,186.16 L34.00,186.16 L34.00,171.76 L34.85,171.76 L34.85,178.74 L35.70,178.74 L35.70,170.87 L36.55,170.87 L36.55,183.73 L37.40,183.73 L37.40,161.32 L38.25,161.32 L38.25,171.36 L39.10,171.36 L39.10,165.22 L39.95,165.22 L39.95,169.99 L40.80,169.99 L40.80,151.11 L41.65,151.11 L41.65,165.32 L42.50,165.32 L42.50,143.63 L43.35,143.63 L43.35,166.21 L44.20,166.21 L44.20,154.77 L45.05,154.77 L45.05,162.46 L45.90,162.46 L45.90,145.12 L46.75,145.12 L46.75,159.36 L47.60,159.36 L47.60,146.59 L48.45,146.59 L48.45,161.02 L49.30,161.02 L49.30,144.38 L50.15,144.38 L50.15,158.61 L51.00,158.61 L51.00,147.53 L51.85,147.53 L51.85,153.75 L52.70,153.75 L52.70,139.71 L53.55,139.71 L53.55,154.58 L54.40,154.58 L54.40,135.34 L55.25,135.34 L55.25,146.20 L56.10,146.20 L56.10,139.28 L56.95,139.28 L56.95,163.56 L57.80,163.56 L57.80,140.72 L58.65,140.72 L58.65,162.83 L59.50,162.83 L59.50,144.85 L60.35,144.85 L60.35,161.54 L61.20,161.54 L61.20,163.05 L62.05,163.05 L62.05,170.79 L62.90,170.79 L62.90,154.09 L63.75,154.09 L63.75,183.16 L64.60,183.16 L64.60,161.45 L65.45,161.45 L65.45,183.87 L66.30,183.87 L66.30,172.03 L67.15,172.03 L67.15,194.30 L68.00,194.30 L68.00,178.89 L68.85,178.89 L68.85,191.79 L69.70,191.79 L69.70,183.69 L70.55,183.69 L70.55,192.82 L71.40,192.82 L71.40,182.61 L72.25,182.61 L72.25,191.39 L73.10,191.39 L73.10,188.98 L73.95,188.98 L73.95,194.77 L74.80,194.77 L74.80,191.59 L75.65,191.59 L75.65,201.34 L76.50,201.34 L76.50,189.81 L77.35,189.81 L77.35,198.00 L78.20,198.00 L78.20,195.04 L79.05,195.04 L79.05,201.86 L79.90,201.86 L79.90,195.97 L80.75,195.97 L80.75,205.48 L81.60,205.48 L81.60,202.52 L82.45,202.52 L82.45,205.07 L83.30,205.07 L83.30,195.28 L84.15,195.28 L84.15,210.13 L85.00,210.13 L85.00,198.41 L85.85,198.41 L85.85,208.97 L86.70,208.97 L86.70,202.90 L87.55,202.90 L87.55,205.27 L88.40,205.27 L88.40,199.21 L89.25,199.21 L89.25,202.87 L90.10,202.87 L90.10,200.13 L90.95,200.13 L90.95,209.06 L91.80,209.06 L91.80,202.69 L92.65,202.69 L92.65,205.47 L93.50,205.47 L93.50,196.11 L94.35,196.11 L94.35,204.72 L95.20,204.72 L95.20,195.17 L96.05,195.17 L96.05,206.86 L96.90,206.86 L96.90,200.92 L97.75,200.92 L97.75,201.06 L98.60,201.06 L98.60,193.47 L99.45,193.47 L99.45,203.88 L100.30,203.88 L100.30,196.21 L101.15,196.21 L101.15,200.25 L102.00,200.25 L102.00,196.42 L102.85,196.42 L102.85,207.10 L103.70,207.10 L103.70,200.90 L104.55,200.90 L104.55,204.36 L105.40,204.36 L105.40,201.69 L106.25,201.69 L106.25,204.33 L107.10,204.33 L107.10,202.61 L107.95,202.61 L107.95,208.33 L108.80,208.33 L108.80,201.09 L109.65,201.09 L109.65,213.07 L110.50,213.07 L110.50,205.32 L111.35,205.32 L111.35,210.21 L112.20,210.21 L112.20,204.87 L113.05,204.87 L113.05,211.27 L113.90,211.27 L113.90,210.07 L114.75,210.07 L114.75,215.29 L115.60,215.29 L115.60,207.97 L116.45,207.97 L116.45,216.07 L117.30,216.07 L117.30,213.56 L118.15,213.56 L118.15,217.47 L119.00,217.47 L119.00,214.40 L119.85,214.40 L119.85,218.73 L120.70,218.73 L120.70,218.30 L121.55,218.30 L121.55,219.53 L122.40,219.53 L122.40,216.61 L123.25,216.61 L123.25,218.82 L124.10,218.82 L124.10,218.23 L124.95,218.23 L124.95,220.25 L125.80,220.25 L125.80,219.12 L126.65,219.12 L126.65,220.09 L127.50,220.09 L127.50,219.41 L128.35,219.41 L128.35,220.80 L129.20,220.80 L129.20,220.19 L130.05,220.19 L130.05,220.78 L130.90,220.78 L130.90,219.66 L131.75,219.66 L131.75,220.70 L132.60,220.70 L132.60,220.06 L133.45,220.06 L133.45,221.01 L134.30,221.01 L134.30,220.59 L135.15,220.59 L135.15,220.79 L136.00,220.79 L136.00,220.10 L136.85,220.10 L136.85,220.61 L137.70,220.61 L137.70,220.21 L138.55,220.21 L138.55,220.87 L139.40,220.87 L139.40,219.99 L140.25,219.99 L140.25,220.84 L141.10,220.84 L141.10,220.52 L141.95,220.52 L141.95,220.78 L142.80,220.78 L142.80,219.71 L143.65,219.71 L143.65,220.95 L144.50,220.95 L144.50,220.23 L145.35,220.23 L145.35,220.98 L146.20,220.98 L146.20,220.31 L147.05,220.31 L147.05,221.05 L147.90,221.05 L147.90,220.24 L148.75,220.24 L148.75,221.21 L149.60,221.21 L149.60,220.23 L150.45,220.23 L150.45,221.17 L151.30,221.17 L151.30,220.01 L152.15,220.01 L152.15,221.01 L153.00,221.01 L153.00,220.75 L153.85,220.75 L153.85,221.30 L154.70,221.30 L154.70,220.64 L155.55,220.64 L155.55,220.90 L156.40,220.90 L156.40,219.92 L157.25,219.92 L157.25,220.20 L158.10,220.20 L158.10,220.51 L158.95,220.51 L158.95,221.30 L159.80,221.30 L159.80,220.62 L160.65,220.62 L160.65,220.92 L161.50,220.92 L161.50,220.67 L162.35,220.67 L162.35,220.63 L163.20,220.63 L163.20,220.61 L164.05,220.61 L164.05,220.90 L164.90,220.90 L164.90,220.42 L165.75,220.42 L165.75,221.11 L166.60,221.11 L166.60,220.73 L167.45,220.73 L167.45,220.69 L168.30,220.69 L168.30,220.46 L169.15,220.46 L169.15,221.30 L170.00,221.30 L170.00,220.24 L170.85,220.24 L170.85,220.95 L171.70,220.95 L171.70,220.08 L172.55,220.08 L172.55,220.98 L173.40,220.98 L173.40,220.32 L174.25,220.32 L174.25,220.97 L175.10,220.97 L175.10,220.45 L175.95,220.45 L175.95,220.90 L176.80,220.90 L176.80,220.23 L177.65,220.23 L177.65,221.04 L178.50,221.04 L178.50,220.50 L179.35,220.50 L179.35,220.88 L180.20,220.88 L180.20,220.15 L181.05,220.15 L181.05,221.18 L181.90,221.18 L181.90,220.23 L182.75,220.23 L182.75,221.30 L183.60,221.30 L183.60,220.63 L184.45,220.63 L184.00,221.30" fill="none" stroke="#000" stroke-width="1.05" stroke-linejoin="miter" />
<path d="M20.70,221.30 L20.70,195.06 L21.75,195.06 L21.75,197.57 L22.80,197.57 L22.80,185.86 L23.85,185.86 L23.85,199.09 L24.90,199.09 L24.90,185.26 L25.95,185.26 L25.95,193.75 L27.00,193.75 L27.00,177.27 L28.05,177.27 L28.05,187.69 L29.10,187.69 L29.10,177.23 L30.15,177.23 L30.15,193.01 L31.20,193.01 L31.20,173.43 L32.25,173.43 L32.25,185.62 L33.30,185.62 L33.30,163.38 L34.35,163.38 L34.35,182.27 L35.40,182.27 L35.40,159.06 L36.45,159.06 L36.45,178.79 L37.50,178.79 L37.50,165.64 L38.55,165.64 L38.55,170.25 L39.60,170.25 L39.60,157.69 L40.65,157.69 L40.65,164.57 L41.70,164.57 L41.70,152.25 L42.75,152.25 L42.75,166.36 L43.80,166.36 L43.80,151.21 L44.85,151.21 L44.85,165.08 L45.90,165.08 L45.90,156.76 L46.95,156.76 L46.95,162.00 L48.00,162.00 L48.00,136.91 L49.05,136.91 L49.05,160.36 L50.10,160.36 L50.10,143.12 L51.15,143.12 L51.15,144.65 L52.20,144.65 L52.20,138.63 L53.25,138.63 L53.25,155.54 L54.30,155.54 L54.30,139.43 L55.35,139.43 L55.35,157.87 L56.40,157.87 L56.40,143.00 L57.45,143.00 L57.45,156.95 L58.50,156.95 L58.50,147.93 L59.55,147.93 L59.55,156.83 L60.60,156.83 L60.60,151.12 L61.65,151.12 L61.65,171.48 L62.70,171.48 L62.70,159.91 L63.75,159.91 L63.75,178.51 L64.80,178.51 L64.80,173.91 L65.85,173.91 L65.85,184.74 L66.90,184.74 L66.90,178.62 L67.95,178.62 L67.95,190.41 L69.00,190.41 L69.00,184.46 L70.05,184.46 L70.05,192.20 L71.10,192.20 L71.10,188.60 L72.15,188.60 L72.15,193.11 L73.20,193.11 L73.20,190.61 L74.25,190.61 L74.25,192.51 L75.30,192.51 L75.30,187.41 L76.35,187.41 L76.35,200.58 L77.40,200.58 L77.40,193.73 L78.45,193.73 L78.45,200.83 L79.50,200.83 L79.50,194.27 L80.55,194.27 L80.55,201.34 L81.60,201.34 L81.60,199.19 L82.65,199.19 L82.65,204.50 L83.70,204.50 L83.70,196.44 L84.75,196.44 L84.75,205.04 L85.80,205.04 L85.80,200.81 L86.85,200.81 L86.85,208.25 L87.90,208.25 L87.90,197.00 L88.95,197.00 L88.95,208.41 L90.00,208.41 L90.00,193.33 L91.05,193.33 L91.05,208.72 L92.10,208.72 L92.10,198.93 L93.15,198.93 L93.15,204.34 L94.20,204.34 L94.20,195.92 L95.25,195.92 L95.25,200.96 L96.30,200.96 L96.30,196.47 L97.35,196.47 L97.35,203.46 L98.40,203.46 L98.40,197.38 L99.45,197.38 L99.45,201.87 L100.50,201.87 L100.50,196.72 L101.55,196.72 L101.55,201.94 L102.60,201.94 L102.60,196.89 L103.65,196.89 L103.65,203.74 L104.70,203.74 L104.70,198.08 L105.75,198.08 L105.75,205.07 L106.80,205.07 L106.80,202.22 L107.85,202.22 L107.85,206.49 L108.90,206.49 L108.90,203.70 L109.95,203.70 L109.95,206.95 L111.00,206.95 L111.00,207.47 L112.05,207.47 L112.05,211.90 L113.10,211.90 L113.10,209.41 L114.15,209.41 L114.15,214.72 L115.20,214.72 L115.20,212.00 L116.25,212.00 L116.25,214.65 L117.30,214.65 L117.30,213.98 L118.35,213.98 L118.35,216.55 L119.40,216.55 L119.40,216.72 L120.45,216.72 L120.45,217.79 L121.50,217.79 L121.50,217.96 L122.55,217.96 L122.55,218.55 L123.60,218.55 L123.60,219.14 L124.65,219.14 L124.65,219.26 L125.70,219.26 L125.70,220.22 L126.75,220.22 L126.75,219.37 L127.80,219.37 L127.80,220.51 L128.85,220.51 L128.85,219.23 L129.90,219.23 L129.90,220.78 L130.95,220.78 L130.95,219.25 L132.00,219.25 L132.00,221.16 L133.05,221.16 L133.05,219.62 L134.10,219.62 L134.10,220.47 L135.15,220.47 L135.15,220.07 L136.20,220.07 L136.20,221.10 L137.25,221.10 L137.25,219.47 L138.30,219.47 L138.30,221.30 L139.35,221.30 L139.35,219.76 L140.40,219.76 L140.40,220.63 L141.45,220.63 L141.45,219.65 L142.50,219.65 L142.50,220.80 L143.55,220.80 L143.55,220.79 L144.60,220.79 L144.60,221.26 L145.65,221.26 L145.65,219.14 L146.70,219.14 L146.70,220.74 L147.75,220.74 L147.75,219.58 L148.80,219.58 L148.80,221.30 L149.85,221.30 L149.85,220.46 L150.90,220.46 L150.90,221.30 L151.95,221.30 L151.95,218.82 L153.00,218.82 L153.00,221.30 L154.05,221.30 L154.05,219.76 L155.10,219.76 L155.10,221.30 L156.15,221.30 L156.15,220.74 L157.20,220.74 L157.20,221.30 L158.25,221.30 L158.25,220.48 L159.30,220.48 L159.30,220.95 L160.35,220.95 L160.35,220.26 L161.40,220.26 L161.40,221.30 L162.45,221.30 L162.45,220.60 L163.50,220.60 L163.50,221.30 L164.55,221.30 L164.55,219.17 L165.60,219.17 L165.60,221.30 L166.65,221.30 L166.65,220.16 L167.70,220.16 L167.70,221.30 L168.75,221.30 L168.75,219.32 L169.80,219.32 L169.80,220.92 L170.85,220.92 L170.85,220.68 L171.90,220.68 L171.90,221.30 L172.95,221.30 L172.95,218.80 L174.00,218.80 L174.00,221.30 L175.05,221.30 L175.05,220.54 L176.10,220.54 L176.10,220.98 L177.15,220.98 L177.15,220.25 L178.20,220.25 L178.20,221.30 L179.25,221.30 L179.25,220.11 L180.30,220.11 L180.30,221.30 L181.35,221.30 L181.35,220.78 L182.40,220.78 L182.40,221.30 L183.45,221.30 L183.45,219.49 L184.50,219.49 L184.00,221.30" fill="none" stroke="#000" stroke-width="1.0" stroke-linejoin="miter" />
<path d="M30.00,177.43 L30.80,177.43 L30.80,184.51 L31.60,184.51 L31.60,177.76 L32.40,177.76 L32.40,182.32 L33.20,182.32 L33.20,170.74 L34.00,170.74 L34.00,180.78 L34.80,180.78 L34.80,172.62 L35.60,172.62 L35.60,177.37 L36.40,177.37 L36.40,165.46 L37.20,165.46 L37.20,178.41 L38.00,178.41 L38.00,166.54 L38.80,166.54 L38.80,171.08 L39.60,171.08 L39.60,154.56 L40.40,154.56 L40.40,171.62 L41.20,171.62 L41.20,161.17 L42.00,161.17 L42.00,166.70 L42.80,166.70 L42.80,145.77 L43.60,145.77 L43.60,162.87 L44.40,162.87 L44.40,144.88 L45.20,144.88 L45.20,159.59 L46.00,159.59 L46.00,141.81 L46.80,141.81 L46.80,159.53 L47.60,159.53 L47.60,146.30 L48.40,146.30 L48.40,151.26 L49.20,151.26 L49.20,142.35 L50.00,142.35 L50.00,161.42 L50.80,161.42 L50.80,146.20 L51.60,146.20 L51.60,156.63 L52.40,156.63 L52.40,134.53 L53.20,134.53 L53.20,149.12 L54.00,149.12 L54.00,140.10 L54.80,140.10 L54.80,148.04 L55.60,148.04 L55.60,139.40 L56.40,139.40 L56.40,151.09 L57.20,151.09 L57.20,137.04 L58.00,137.04 L58.00,150.37 L58.80,150.37 L58.80,149.81 L59.60,149.81 L59.60,162.99 L60.40,162.99 L60.40,150.15 L61.20,150.15 L61.20,162.42 L62.00,162.42 L62.00,158.81 L62.80,158.81 L62.80,170.29 L63.60,170.29 L63.60,157.83 L64.40,157.83 L64.40,180.90 L65.20,180.90 L65.20,176.91 L66.00,176.91 L66.00,184.33 L66.80,184.33 L66.80,177.90 L67.60,177.90 L67.60,189.63 L68.40,189.63 L68.40,181.57 L69.20,181.57 L69.20,188.14 L70.00,188.14" fill="none" stroke="#000" stroke-width="1.0" stroke-linejoin="miter" />
<path d="M20.60,199.85 L21.40,199.85 L21.40,199.20 L22.20,199.20 L22.20,195.46 L23.00,195.46 L23.00,195.85 L23.80,195.85 L23.80,194.31 L24.60,194.31 L24.60,192.96 L25.40,192.96 L25.40,189.59 L26.20,189.59 L26.20,190.12 L27.00,190.12 L27.00,186.59 L27.80,186.59 L27.80,185.99 L28.60,185.99 L28.60,182.25 L29.40,182.25 L29.40,181.86 L30.20,181.86 L30.20,179.54 L31.00,179.54 L31.00,179.97 L31.80,179.97 L31.80,177.21 L32.60,177.21 L32.60,178.78 L33.40,178.78 L33.40,176.22 L34.20,176.22 L34.20,178.46 L35.00,178.46 L35.00,175.42 L35.80,175.42 L35.80,177.34 L36.60,177.34 L36.60,176.44 L37.40,176.44 L37.40,176.81 L38.20,176.81 L38.20,173.55 L39.00,173.55 L39.00,177.18 L39.80,177.18 L39.80,173.21 L40.60,173.21 L40.60,173.64 L41.40,173.64 L41.40,171.47 L42.20,171.47 L42.20,172.82 L43.00,172.82 L43.00,173.54 L43.80,173.54 L43.80,173.16 L44.60,173.16 L44.60,170.45 L45.40,170.45 L45.40,171.68 L46.20,171.68 L46.20,172.00 L47.00,172.00 L47.00,172.81 L47.80,172.81 L47.80,171.75 L48.60,171.75 L48.60,171.50 L49.40,171.50 L49.40,171.43 L50.20,171.43 L50.20,173.72 L51.00,173.72 L51.00,175.01 L51.80,175.01 L51.80,180.04 L52.60,180.04 L52.60,179.78 L53.40,179.78 L53.40,182.46 L54.20,182.46 L54.20,182.16 L55.00,182.16 L55.00,183.91 L55.80,183.91 L55.80,184.36 L56.60,184.36 L56.60,185.69 L57.40,185.69 L57.40,183.75 L58.20,183.75 L58.20,185.56 L59.00,185.56 L59.00,183.70 L59.80,183.70 L59.80,186.46 L60.60,186.46 L60.60,186.34 L61.40,186.34 L61.40,188.81 L62.20,188.81 L62.20,188.07 L63.00,188.07 L63.00,192.06 L63.80,192.06 L63.80,192.79 L64.60,192.79 L64.60,195.98 L65.40,195.98 L65.40,196.11 L66.20,196.11 L66.20,197.01 L67.00,197.01 L67.00,196.60 L67.80,196.60 L67.80,198.25 L68.60,198.25 L68.60,197.79 L69.40,197.79 L69.40,199.81 L70.20,199.81 L70.20,197.86 L71.00,197.86 L71.00,199.90 L71.80,199.90 L71.80,196.98 L72.60,196.98 L72.60,197.22 L73.40,197.22 L73.40,195.46 L74.20,195.46 L74.20,195.83 L75.00,195.83 L75.00,193.57 L75.80,193.57 L75.80,195.53 L76.60,195.53 L76.60,195.71 L77.40,195.71 L77.40,199.70 L78.20,199.70 L78.20,198.42 L79.00,198.42 L79.00,200.40 L79.80,200.40 L79.80,199.92 L80.60,199.92 L80.60,203.07 L81.40,203.07 L81.40,200.99 L82.20,200.99 L82.20,202.62 L83.00,202.62 L83.00,202.78 L83.80,202.78 L83.80,204.09 L84.60,204.09 L84.60,203.11 L85.40,203.11 L85.40,202.56 L86.20,202.56 L86.20,201.56 L87.00,201.56 L87.00,202.17 L87.80,202.17 L87.80,198.89 L88.60,198.89 L88.60,199.13 L89.40,199.13 L89.40,195.10 L90.20,195.10 L90.20,193.33 L91.00,193.33 L91.00,189.20 L91.80,189.20 L91.80,187.12 L92.60,187.12" fill="none" stroke="#333" stroke-width="0.8" stroke-linejoin="miter" />
<path d="M92.00,185.27 L92.80,185.27 L92.80,185.57 L93.60,185.57 L93.60,182.56 L94.40,182.56 L94.40,179.89 L95.20,179.89 L95.20,176.15 L96.00,176.15 L96.00,175.48 L96.80,175.48 L96.80,165.83 L97.60,165.83 L97.60,164.10 L98.40,164.10 L98.40,158.43 L99.20,158.43 L99.20,155.38 L100.00,155.38 L100.00,149.13 L100.80,149.13 L100.80,149.87 L101.60,149.87 L101.60,150.96 L102.40,150.96 L102.40,154.13 L103.20,154.13 L103.20,154.24 L104.00,154.24 L104.00,163.65 L104.80,163.65 L104.80,159.68 L105.60,159.68 L105.60,160.88 L106.40,160.88 L106.40,160.23 L107.20,160.23 L107.20,175.43 L108.00,175.43 L108.00,174.41 L108.80,174.41 L108.80,184.07 L109.60,184.07 L109.60,184.30 L110.40,184.30 L110.40,193.37 L111.20,193.37 L111.20,191.43 L112.00,191.43 L112.00,196.09 L112.80,196.09 L112.80,196.56 L113.60,196.56 L113.60,201.11 L114.40,201.11 L114.40,202.06 L115.20,202.06 L115.20,207.57 L116.00,207.57 L116.00,207.80 L116.80,207.80 L116.80,213.21 L117.60,213.21 L117.60,211.61 L118.40,211.61 L118.40,214.48 L119.20,214.48 L119.20,213.72 L120.00,213.72 L120.00,217.04 L120.80,217.04 L120.80,217.19 L121.60,217.19 L121.60,217.91 L122.40,217.91 L122.40,217.61 L123.20,217.61 L123.20,221.30 L124.00,221.30 L124.00,217.36 L124.80,217.36 L124.80,220.31 L125.60,220.31 L125.60,219.40 L126.40,219.40 L126.40,220.62 L127.20,220.62 L127.20,218.13 L128.00,218.13 L128.00,221.30 L128.80,221.30 L128.80,218.98 L129.60,218.98 L129.60,220.47 L130.40,220.47 L130.40,220.59 L131.20,220.59 L131.20,219.46 L132.00,219.46 L132.00,219.92 L132.80,219.92 L132.80,221.11 L133.60,221.11 L133.60,218.04 L134.40,218.04 L134.40,220.96 L135.20,220.96 L135.20,218.61 L136.00,218.61 L136.00,221.30 L136.80,221.30 L136.80,218.59 L137.60,218.59 L137.60,220.72 L138.40,220.72 L138.40,218.56 L139.20,218.56 L139.20,219.98 L140.00,219.98 L140.00,218.12 L140.80,218.12 L140.80,220.02 L141.60,220.02 L141.60,218.46 L142.40,218.46 L142.40,220.64 L143.20,220.64 L143.20,218.77 L144.00,218.77 L144.00,220.43 L144.80,220.43 L144.80,220.60 L145.60,220.60 L145.60,220.02 L146.40,220.02 L146.40,219.08 L147.20,219.08 L147.20,221.20 L148.00,221.20 L148.00,219.34 L148.80,219.34 L148.80,221.30 L149.60,221.30 L149.60,217.54 L150.40,217.54 L150.40,220.37 L151.20,220.37 L151.20,219.16 L152.00,219.16 L152.00,221.30 L152.80,221.30 L152.80,220.31 L153.60,220.31 L153.60,221.30 L154.40,221.30 L154.40,219.80 L155.20,219.80 L155.20,220.42 L156.00,220.42 L156.00,218.93 L156.80,218.93 L156.80,221.30 L157.60,221.30 L157.60,219.07 L158.40,219.07 L158.40,221.30 L159.20,221.30 L159.20,217.08 L160.00,217.08 L160.00,221.23 L160.80,221.23 L160.80,221.20 L161.60,221.20 L161.60,221.30 L162.40,221.30 L162.40,221.05 L163.20,221.05 L163.20,221.30 L164.00,221.30 L164.00,219.19 L164.80,219.19 L164.80,220.00 L165.60,220.00 L165.60,219.72 L166.40,219.72 L166.40,220.26 L167.20,220.26 L167.20,219.32 L168.00,219.32 L168.00,219.46 L168.80,219.46 L168.80,219.70 L169.60,219.70 L169.60,221.30 L170.40,221.30 L170.40,219.07 L171.20,219.07 L171.20,221.12 L172.00,221.12 L172.00,220.24 L172.80,220.24 L172.80,221.30 L173.60,221.30 L173.60,219.84 L174.40,219.84 L174.40,219.62 L175.20,219.62 L175.20,218.55 L176.00,218.55 L176.00,221.30 L176.80,221.30 L176.80,220.22 L177.60,220.22 L177.60,221.02 L178.40,221.02 L178.40,219.03 L179.20,219.03 L179.20,221.30 L180.00,221.30 L180.00,218.08 L180.80,218.08 L180.80,220.55 L181.60,220.55 L181.60,217.78 L182.40,217.78 L182.40,220.83 L183.20,220.83 L183.20,220.01 L184.00,220.01" fill="none" stroke="#333" stroke-width="0.8" stroke-linejoin="miter" />
<path d="M323.60,220.30 L323.60,148.58 L324.40,148.58 L324.40,170.19 L325.20,170.19 L325.20,156.26 L326.00,156.26 L326.00,161.08 L326.80,161.08 L326.80,150.31 L327.60,150.31 L327.60,161.95 L328.40,161.95 L328.40,158.91 L329.20,158.91 L329.20,154.91 L330.00,154.91 L330.00,120.07 L330.80,120.07 L330.80,149.67 L331.60,149.67 L331.60,139.63 L332.40,139.63 L332.40,150.72 L333.20,150.72 L333.20,132.85 L334.00,132.85 L334.00,148.54 L334.80,148.54 L334.80,143.31 L335.60,143.31 L335.60,149.43 L336.40,149.43 L336.40,145.46 L337.20,145.46 L337.20,147.71 L338.00,147.71 L338.00,146.62 L338.80,146.62 L338.80,112.49 L339.60,112.49 L339.60,105.16 L340.40,105.16 L340.40,129.44 L341.20,129.44 L341.20,141.62 L342.00,141.62 L342.00,124.31 L342.80,124.31 L342.80,120.71 L343.60,120.71 L343.60,100.41 L344.40,100.41 L344.40,121.56 L345.20,121.56 L345.20,131.56 L346.00,131.56 L346.00,111.08 L346.80,111.08 L346.80,110.31 L347.60,110.31 L347.60,98.74 L348.40,98.74 L348.40,109.13 L349.20,109.13 L349.20,124.61 L350.00,124.61 L350.00,129.73 L350.80,129.73 L350.80,121.76 L351.60,121.76 L351.60,113.82 L352.40,113.82 L352.40,108.98 L353.20,108.98 L353.20,133.70 L354.00,133.70 L354.00,119.78 L354.80,119.78 L354.80,120.04 L355.60,120.04 L355.60,133.65 L356.40,133.65 L356.40,128.15 L357.20,128.15 L357.20,126.34 L358.00,126.34 L358.00,137.93 L358.80,137.93 L358.80,139.08 L359.60,139.08 L359.60,139.83 L360.40,139.83 L360.40,102.88 L361.20,102.88 L361.20,142.87 L362.00,142.87 L362.00,142.22 L362.80,142.22 L362.80,145.29 L363.60,145.29 L363.60,146.45 L364.40,146.45 L364.40,133.01 L365.20,133.01 L365.20,149.07 L366.00,149.07 L366.00,144.22 L366.80,144.22 L366.80,131.83 L367.60,131.83 L367.60,148.13 L368.40,148.13 L368.40,143.61 L369.20,143.61 L369.20,154.43 L370.00,154.43 L370.00,149.21 L370.80,149.21 L370.80,140.73 L371.60,140.73 L371.60,153.95 L372.40,153.95 L372.40,144.02 L373.20,144.02 L373.20,147.49 L374.00,147.49 L374.00,162.36 L374.80,162.36 L374.80,165.81 L375.60,165.81 L375.60,156.54 L376.40,156.54 L376.40,174.44 L377.20,174.44 L377.20,172.36 L378.00,172.36 L378.00,163.25 L378.80,163.25 L378.80,173.31 L379.60,173.31 L379.60,143.85 L380.40,143.85 L380.40,179.61 L381.20,179.61 L381.20,176.00 L382.00,176.00 L382.00,184.12 L382.80,184.12 L382.80,176.73 L383.60,176.73 L383.60,183.97 L384.40,183.97 L384.40,185.86 L385.20,185.86 L385.20,169.83 L386.00,169.83 L386.00,174.03 L386.80,174.03 L386.80,186.58 L387.60,186.58 L387.60,187.52 L388.40,187.52 L388.40,183.03 L389.20,183.03 L389.20,191.91 L390.00,191.91 L390.00,180.38 L390.80,180.38 L390.80,193.48 L391.60,193.48 L391.60,183.27 L392.40,183.27 L392.40,170.01 L393.20,170.01 L393.20,191.25 L394.00,191.25 L394.00,175.31 L394.80,175.31 L394.80,174.62 L395.60,174.62 L395.60,196.84 L396.40,196.84 L396.40,195.16 L397.20,195.16 L397.20,197.68 L398.00,197.68 L398.00,192.88 L398.80,192.88 L398.80,187.43 L399.60,187.43 L399.60,184.62 L400.40,184.62 L400.40,200.30 L401.20,200.30 L401.20,178.22 L402.00,178.22 L402.00,200.70 L402.80,200.70 L402.80,179.23 L403.60,179.23 L403.60,195.43 L404.40,195.43 L404.40,201.33 L405.20,201.33 L405.20,201.60 L406.00,201.60 L406.00,201.30 L406.80,201.30 L406.80,201.87 L407.60,201.87 L407.60,180.38 L408.40,180.38 L408.40,193.93 L409.20,193.93 L409.20,200.93 L410.00,200.93 L410.00,201.20 L410.80,201.20 L410.80,192.95 L411.60,192.95 L411.60,194.51 L412.40,194.51 L412.40,194.98 L413.20,194.98 L413.20,192.16 L414.00,192.16 L414.00,191.53 L414.80,191.53 L414.80,189.60 L415.60,189.60 L415.60,179.69 L416.40,179.69 L416.40,176.07 L417.20,176.07 L417.20,175.54 L418.00,175.54 L418.00,182.31 L418.80,182.31 L418.80,174.01 L419.60,174.01 L419.60,174.10 L420.40,174.10 L420.40,177.63 L421.20,177.63 L421.20,176.20 L422.00,176.20 L422.00,173.53 L422.80,173.53 L422.80,171.79 L423.60,171.79 L423.60,167.49 L424.40,167.49 L424.40,167.57 L425.20,167.57 L425.20,167.96 L426.00,167.96 L426.00,172.06 L426.80,172.06 L426.80,161.68 L427.60,161.68 L427.60,172.80 L428.40,172.80 L428.40,173.46 L429.20,173.46 L429.20,165.85 L430.00,165.85 L430.00,169.30 L430.80,169.30 L430.80,177.41 L431.60,177.41 L431.60,171.80 L432.40,171.80 L432.40,177.02 L433.20,177.02 L433.20,179.79 L434.00,179.79 L434.00,184.58 L434.80,184.58 L434.80,188.07 L435.60,188.07 L435.60,179.18 L436.40,179.18 L436.40,181.94 L437.20,181.94 L437.20,190.74 L438.00,190.74 L438.00,191.87 L438.80,191.87 L438.80,191.69 L439.60,191.69 L439.60,201.00 L440.40,201.00 L440.40,202.14 L441.20,202.14 L441.20,204.21 L442.00,204.21 L442.00,197.92 L442.80,197.92 L442.80,205.85 L443.60,205.85 L443.60,208.16 L444.40,208.16 L444.40,206.59 L445.20,206.59 L445.20,211.49 L446.00,211.49 L446.00,211.32 L446.80,211.32 L446.80,210.23 L447.60,210.23 L447.60,213.79 L448.40,213.79 L448.40,215.21 L449.20,215.21 L449.20,215.88 L450.00,215.88 L450.00,216.10 L450.80,216.10 L450.80,217.30 L451.60,217.30 L451.60,217.86 L452.40,217.86 L452.40,217.98 L453.20,217.98 L453.20,218.62 L454.00,218.62 L454.00,218.60 L454.80,218.60 L454.80,218.62 L455.60,218.62 L455.60,219.11 L456.40,219.11 L456.40,219.65 L457.20,219.65 L457.20,219.33 L458.00,219.33 L458.00,219.57 L458.80,219.57 L458.80,219.50 L459.60,219.50 L459.60,219.68 L460.40,219.68 L460.40,219.13 L461.20,219.13 L461.20,219.27 L462.00,219.27 L462.00,219.69 L462.80,219.69 L462.80,219.69 L463.60,219.69 L463.60,219.63 L464.40,219.63 L464.40,219.58 L465.20,219.58 L465.20,219.59 L466.00,219.59 L466.00,219.31 L466.80,219.31 L466.80,219.50 L467.60,219.50 L467.60,219.29 L468.40,219.29 L468.40,219.74 L469.20,219.74 L469.20,219.71 L470.00,219.71 L470.00,219.74 L470.80,219.74 L470.80,219.30 L471.60,219.30 L471.60,219.76 L472.40,219.76 L472.40,219.51 L473.20,219.51 L473.20,219.75 L474.00,219.75 L474.00,219.47 L474.80,219.47 L474.80,219.78 L475.60,219.78 L475.60,219.48 L476.40,219.48 L476.40,219.68 L477.20,219.68 L477.20,219.54 L478.00,219.54 L478.00,219.28 L478.80,219.28 L478.80,219.27 L479.60,219.27 L479.60,219.35 L480.40,219.35 L480.40,219.82 L481.20,219.82 L481.20,219.53 L482.00,219.53 L482.00,219.81 L482.80,219.81 L482.80,219.79 L483.60,219.79 L483.60,219.68 L484.40,219.68 L484.40,219.46 L485.20,219.46 L485.20,219.42 L486.00,219.42 L486.00,219.78 L486.80,219.78 L486.80,219.42 L487.60,219.42 L487.60,219.74 L488.40,219.74 L488.40,219.87 L489.20,219.87 L489.20,219.52 L490.00,219.52 L490.00,219.76 L490.80,219.76 L490.80,219.85 L491.60,219.85 L491.60,219.88 L492.40,219.88 L492.40,219.74 L493.20,219.74 L493.20,219.66 L494.00,219.66 L494.00,219.39 L494.80,219.39 L494.80,219.52 L495.60,219.52 L495.60,219.66 L496.40,219.66 L496.40,219.93 L497.20,219.93 L497.20,219.92 L498.00,219.92 L498.00,219.66 L498.80,219.66 L498.80,219.91 L499.60,219.91 L499.60,219.95 L500.40,219.95 L500.40,219.95 L501.20,219.95 L500.50,220.30" fill="none" stroke="#666" stroke-width="0.85" stroke-linejoin="miter" />
<line x1="357.6" y1="80.6" x2="357.6" y2="137.27333333333334" stroke="#666" stroke-width="0.9"/>
<line x1="346" y1="96" x2="346" y2="131.4" stroke="#666" stroke-width="0.9"/>
<line x1="349" y1="92" x2="349" y2="128.6" stroke="#666" stroke-width="0.9"/>
<line x1="341" y1="97.4" x2="341" y2="142.7" stroke="#666" stroke-width="0.9"/>
<line x1="352" y1="93" x2="352" y2="131.3" stroke="#666" stroke-width="0.9"/>
<line x1="344" y1="106" x2="344" y2="136.46666666666667" stroke="#666" stroke-width="0.9"/>
<line x1="335" y1="119.7" x2="335" y2="149.98333333333332" stroke="#666" stroke-width="0.9"/>
<line x1="362" y1="110.8" x2="362" y2="143.55" stroke="#666" stroke-width="0.9"/>
<line x1="366" y1="117.5" x2="366" y2="149.91666666666669" stroke="#666" stroke-width="0.9"/>
<line x1="372" y1="143.8" x2="372" y2="167.5" stroke="#666" stroke-width="0.9"/>
<line x1="377" y1="145.8" x2="377" y2="174.815" stroke="#666" stroke-width="0.9"/>
<line x1="330" y1="125" x2="330" y2="154.5" stroke="#666" stroke-width="0.9"/>
<line x1="338" y1="115" x2="338" y2="147.175" stroke="#666" stroke-width="0.9"/>
<line x1="354" y1="100" x2="354" y2="134.3" stroke="#666" stroke-width="0.9"/>
<line x1="368" y1="135" x2="368" y2="156.075" stroke="#666" stroke-width="0.9"/>
<path d="M323.60,220.30 L323.60,180.86 L324.35,180.86 L324.35,184.91 L325.10,184.91 L325.10,179.33 L325.85,179.33 L325.85,180.90 L326.60,180.90 L326.60,176.68 L327.35,176.68 L327.35,176.78 L328.10,176.78 L328.10,172.92 L328.85,172.92 L328.85,177.35 L329.60,177.35 L329.60,169.81 L330.35,169.81 L330.35,173.85 L331.10,173.85 L331.10,167.09 L331.85,167.09 L331.85,169.87 L332.60,169.87 L332.60,165.56 L333.35,165.56 L333.35,169.53 L334.10,169.53 L334.10,166.54 L334.85,166.54 L334.85,167.05 L335.60,167.05 L335.60,162.37 L336.35,162.37 L336.35,162.76 L337.10,162.76 L337.10,161.54 L337.85,161.54 L337.85,163.02 L338.60,163.02 L338.60,161.26 L339.35,161.26 L339.35,160.65 L340.10,160.65 L340.10,159.23 L340.85,159.23 L340.85,162.16 L341.60,162.16 L341.60,156.93 L342.35,156.93 L342.35,158.84 L343.10,158.84 L343.10,154.73 L343.85,154.73 L343.85,158.19 L344.60,158.19 L344.60,159.91 L345.35,159.91 L345.35,159.71 L346.10,159.71 L346.10,156.63 L346.85,156.63 L346.85,163.24 L347.60,163.24 L347.60,156.00 L348.35,156.00 L348.35,158.84 L349.10,158.84 L349.10,157.94 L349.85,157.94 L349.85,160.44 L350.60,160.44 L350.60,154.52 L351.35,154.52 L351.35,160.45 L352.10,160.45 L352.10,155.05 L352.85,155.05 L352.85,159.88 L353.60,159.88 L353.60,157.20 L354.35,157.20 L354.35,161.44 L355.10,161.44 L355.10,159.31 L355.85,159.31 L355.85,162.23 L356.60,162.23 L356.60,160.64 L357.35,160.64 L357.35,161.45 L358.10,161.45 L358.10,156.47 L358.85,156.47 L358.85,161.25 L359.60,161.25 L359.60,156.94 L360.35,156.94 L360.35,159.79 L361.10,159.79 L361.10,160.92 L361.85,160.92 L361.85,161.62 L362.60,161.62 L362.60,161.91 L363.35,161.91 L363.35,163.76 L364.10,163.76 L364.10,161.97 L364.85,161.97 L364.85,168.70 L365.60,168.70 L365.60,168.43 L366.35,168.43 L366.35,171.79 L367.10,171.79 L367.10,172.73 L367.85,172.73 L367.85,180.30 L368.60,180.30 L368.60,174.67 L369.35,174.67 L369.35,178.99 L370.10,178.99 L370.10,181.13 L370.85,181.13 L370.85,187.22 L371.60,187.22 L371.60,184.23 L372.35,184.23 L372.35,188.34 L373.10,188.34 L373.10,185.72 L373.85,185.72 L373.85,191.29 L374.60,191.29 L374.60,186.16 L375.35,186.16 L375.35,191.42 L376.10,191.42 L376.10,189.56 L376.85,189.56 L376.85,192.44 L377.60,192.44 L377.60,190.59 L378.35,190.59 L378.35,192.73 L379.10,192.73 L379.10,190.66 L379.85,190.66 L379.85,192.98 L380.60,192.98 L380.60,191.46 L381.35,191.46 L381.35,194.05 L382.10,194.05 L382.10,192.88 L382.85,192.88 L382.85,197.10 L383.60,197.10 L383.60,194.12 L384.35,194.12 L384.35,195.62 L385.10,195.62 L385.10,194.77 L385.85,194.77 L385.85,200.22 L386.60,200.22 L386.60,197.43 L387.35,197.43 L387.35,200.64 L388.10,200.64 L388.10,196.17 L388.85,196.17 L388.85,202.28 L389.60,202.28 L389.60,200.20 L390.35,200.20 L390.35,204.15 L391.10,204.15 L391.10,201.81 L391.85,201.81 L391.85,204.41 L392.60,204.41 L392.60,202.15 L393.35,202.15 L393.35,204.51 L394.10,204.51 L394.10,203.69 L394.85,203.69 L394.85,207.03 L395.60,207.03 L395.60,205.60 L396.35,205.60 L396.35,206.15 L397.10,206.15 L397.10,202.97 L397.85,202.97 L397.85,202.97 L398.60,202.97 L398.60,203.04 L399.35,203.04 L399.35,201.70 L400.10,201.70 L400.10,198.02 L400.85,198.02 L400.85,200.45 L401.60,200.45 L401.60,195.50 L402.35,195.50 L402.35,192.36 L403.10,192.36 L403.10,187.24 L403.85,187.24 L403.85,188.05 L404.60,188.05 L404.60,183.20 L405.35,183.20 L405.35,181.78 L406.10,181.78 L406.10,178.45 L406.85,178.45 L406.85,178.91 L407.60,178.91 L407.60,175.63 L408.35,175.63 L408.35,175.35 L409.10,175.35 L409.10,171.88 L409.85,171.88 L409.85,173.23 L410.60,173.23 L410.60,163.59 L411.35,163.59 L411.35,164.05 L412.10,164.05 L412.10,157.36 L412.85,157.36 L412.85,154.08 L413.60,154.08 L413.60,148.00 L414.35,148.00 L414.35,150.65 L415.10,150.65 L415.10,139.78 L415.85,139.78 L415.85,143.56 L416.60,143.56 L416.60,130.60 L417.35,130.60 L417.35,135.21 L418.10,135.21 L418.10,125.23 L418.85,125.23 L418.85,125.60 L419.60,125.60 L419.60,120.91 L420.35,120.91 L420.35,121.46 L421.10,121.46 L421.10,111.00 L421.85,111.00 L421.85,110.95 L422.60,110.95 L422.60,112.96 L423.35,112.96 L423.35,121.29 L424.10,121.29 L424.10,115.96 L424.85,115.96 L424.85,119.90 L425.60,119.90 L425.60,123.37 L426.35,123.37 L426.35,123.73 L427.10,123.73 L427.10,119.19 L427.85,119.19 L427.85,132.51 L428.60,132.51 L428.60,124.61 L429.35,124.61 L429.35,135.62 L430.10,135.62 L430.10,135.74 L430.85,135.74 L430.85,149.83 L431.60,149.83 L431.60,151.42 L432.35,151.42 L432.35,163.26 L433.10,163.26 L433.10,157.78 L433.85,157.78 L433.85,167.35 L434.60,167.35 L434.60,170.68 L435.35,170.68 L435.35,175.67 L436.10,175.67 L436.10,173.88 L436.85,173.88 L436.85,181.60 L437.60,181.60 L437.60,183.32 L438.35,183.32 L438.35,188.37 L439.10,188.37 L439.10,189.48 L439.85,189.48 L439.85,193.70 L440.60,193.70 L440.60,197.21 L441.35,197.21 L441.35,200.36 L442.10,200.36 L442.10,200.49 L442.85,200.49 L442.85,201.51 L443.60,201.51 L443.60,204.24 L444.35,204.24 L444.35,208.60 L445.10,208.60 L445.10,208.23 L445.85,208.23 L445.85,210.28 L446.60,210.28 L446.60,208.36 L447.35,208.36 L447.35,211.57 L448.10,211.57 L448.10,211.01 L448.85,211.01 L448.85,215.95 L449.60,215.95 L449.60,213.00 L450.35,213.00 L450.35,214.56 L451.10,214.56 L451.10,213.67 L451.85,213.67 L451.85,217.88 L452.60,217.88 L452.60,216.31 L453.35,216.31 L453.35,219.89 L454.10,219.89 L454.10,217.29 L454.85,217.29 L454.85,218.14 L455.60,218.14 L455.60,217.67 L456.35,217.67 L456.35,218.85 L457.10,218.85 L457.10,216.72 L457.85,216.72 L457.85,218.75 L458.60,218.75 L458.60,216.71 L459.35,216.71 L459.35,218.83 L460.10,218.83 L460.10,215.98 L460.85,215.98 L460.85,219.22 L461.60,219.22 L461.60,219.25 L462.35,219.25 L462.35,220.30 L463.10,220.30 L463.10,216.70 L463.85,216.70 L463.85,219.61 L464.60,219.61 L464.60,217.17 L465.35,217.17 L465.35,220.30 L466.10,220.30 L466.10,219.11 L466.85,219.11 L466.85,219.08 L467.60,219.08 L467.60,218.56 L468.35,218.56 L468.35,219.82 L469.10,219.82 L469.10,216.02 L469.85,216.02 L469.85,218.60 L470.60,218.60 L470.60,217.24 L471.35,217.24 L471.35,220.30 L472.10,220.30 L472.10,220.30 L472.85,220.30 L472.85,218.80 L473.60,218.80 L473.60,217.94 L474.35,217.94 L474.35,220.30 L475.10,220.30 L475.10,219.04 L475.85,219.04 L475.85,220.30 L476.60,220.30 L476.60,218.01 L477.35,218.01 L477.35,220.30 L478.10,220.30 L478.10,216.86 L478.85,216.86 L478.85,220.30 L479.60,220.30 L479.60,217.34 L480.35,217.34 L480.35,218.52 L481.10,218.52 L481.10,218.17 L481.85,218.17 L481.85,220.30 L482.60,220.30 L482.60,220.01 L483.35,220.01 L483.35,220.30 L484.10,220.30 L484.10,217.70 L484.85,217.70 L484.85,220.30 L485.60,220.30 L485.60,216.81 L486.35,216.81 L486.35,220.30 L487.10,220.30 L487.10,216.99 L487.85,216.99 L487.85,219.48 L488.60,219.48 L488.60,216.69 L489.35,216.69 L489.35,218.85 L490.10,218.85 L490.10,218.71 L490.85,218.71 L490.85,218.52 L491.60,218.52 L491.60,217.10 L492.35,217.10 L492.35,219.80 L493.10,219.80 L493.10,215.36 L493.85,215.36 L493.85,219.41 L494.60,219.41 L494.60,219.12 L495.35,219.12 L495.35,220.30 L496.10,220.30 L496.10,217.64 L496.85,217.64 L496.85,220.15 L497.60,220.15 L497.60,219.04 L498.35,219.04 L498.35,219.41 L499.10,219.41 L499.10,218.20 L499.85,218.20 L499.85,220.30 L500.60,220.30 L500.50,220.30" fill="none" stroke="#000" stroke-width="0.8" stroke-linejoin="miter" />
<path d="M404.00,195.98 L404.90,195.98 L404.90,192.89 L405.80,192.89 L405.80,182.84 L406.70,182.84 L406.70,180.35 L407.60,180.35 L407.60,198.95 L408.50,198.95 L408.50,202.17 L409.40,202.17 L409.40,187.86 L410.30,187.86 L410.30,171.43 L411.20,171.43 L411.20,170.20 L412.10,170.20 L412.10,163.05 L413.00,163.05 L413.00,162.32 L413.90,162.32 L413.90,183.94 L414.80,183.94 L414.80,149.25 L415.70,149.25 L415.70,170.42 L416.60,170.42 L416.60,185.48 L417.50,185.48 L417.50,180.48 L418.40,180.48 L418.40,179.30 L419.30,179.30 L419.30,145.58 L420.20,145.58 L420.20,177.89 L421.10,177.89 L421.10,168.30 L422.00,168.30 L422.00,175.10 L422.90,175.10 L422.90,162.69 L423.80,162.69 L423.80,149.54 L424.70,149.54 L424.70,153.84 L425.60,153.84 L425.60,129.62 L426.50,129.62 L426.50,158.33 L427.40,158.33 L427.40,126.88 L428.30,126.88 L428.30,131.83 L429.20,131.83 L429.20,165.78 L430.10,165.78 L430.10,173.99 L431.00,173.99 L431.00,158.24 L431.90,158.24 L431.90,176.83 L432.80,176.83 L432.80,167.46 L433.70,167.46 L433.70,178.79 L434.60,178.79 L434.60,185.50 L435.50,185.50 L435.50,179.90 L436.40,179.90 L436.40,181.37 L437.30,181.37 L437.30,189.17 L438.20,189.17 L438.20,196.01 L439.10,196.01 L439.10,199.13 L440.00,199.13 L440.00,200.11 L440.90,200.11 L440.90,203.75 L441.80,203.75 L441.80,204.66 L442.70,204.66" fill="none" stroke="#555" stroke-width="0.85" stroke-linejoin="miter" />
<path d="M323.80,174.73 L324.70,174.73 L324.70,176.43 L325.60,176.43 L325.60,179.45 L326.50,179.45 L326.50,172.54 L327.40,172.54 L327.40,173.24 L328.30,173.24 L328.30,168.83 L329.20,168.83 L329.20,166.74 L330.10,166.74 L330.10,169.78 L331.00,169.78 L331.00,159.18 L331.90,159.18 L331.90,155.88 L332.80,155.88 L332.80,158.52 L333.70,158.52 L333.70,159.18 L334.60,159.18 L334.60,161.88 L335.50,161.88 L335.50,164.35 L336.40,164.35 L336.40,154.01 L337.30,154.01 L337.30,153.96 L338.20,153.96 L338.20,146.31 L339.10,146.31 L339.10,154.94 L340.00,154.94 L340.00,150.49 L340.90,150.49 L340.90,157.04 L341.80,157.04 L341.80,158.56 L342.70,158.56 L342.70,153.52 L343.60,153.52 L343.60,137.84 L344.50,137.84 L344.50,133.97 L345.40,133.97 L345.40,149.25 L346.30,149.25 L346.30,141.74 L347.20,141.74 L347.20,144.65 L348.10,144.65 L348.10,144.94 L349.00,144.94 L349.00,137.21 L349.90,137.21 L349.90,134.80 L350.80,134.80 L350.80,146.88 L351.70,146.88 L351.70,154.05 L352.60,154.05 L352.60,143.26 L353.50,143.26 L353.50,151.13 L354.40,151.13 L354.40,137.84 L355.30,137.84 L355.30,156.43 L356.20,156.43 L356.20,157.08 L357.10,157.08 L357.10,157.91 L358.00,157.91 L358.00,148.08 L358.90,148.08 L358.90,150.11 L359.80,150.11 L359.80,140.55 L360.70,140.55 L360.70,147.47 L361.60,147.47 L361.60,150.57 L362.50,150.57 L362.50,157.45 L363.40,157.45 L363.40,163.70 L364.30,163.70 L364.30,159.39 L365.20,159.39 L365.20,154.79 L366.10,154.79 L366.10,151.61 L367.00,151.61 L367.00,168.83 L367.90,168.83 L367.90,165.31 L368.80,165.31 L368.80,169.44 L369.70,169.44 L369.70,173.75 L370.60,173.75 L370.60,177.03 L371.50,177.03 L371.50,184.02 L372.40,184.02 L372.40,184.89 L373.30,184.89 L373.30,177.36 L374.20,177.36 L374.20,170.61 L375.10,170.61 L375.10,176.00 L376.00,176.00 L376.00,175.69 L376.90,175.69 L376.90,181.53 L377.80,181.53 L377.80,181.81 L378.70,181.81 L378.70,179.16 L379.60,179.16 L379.60,188.85 L380.50,188.85 L380.50,191.45 L381.40,191.45 L381.40,190.59 L382.30,190.59 L382.30,193.10 L383.20,193.10 L383.20,191.49 L384.10,191.49 L384.10,189.84 L385.00,189.84 L385.00,192.82 L385.90,192.82 L385.90,191.16 L386.80,191.16 L386.80,191.02 L387.70,191.02 L387.70,197.33 L388.60,197.33 L388.60,191.45 L389.50,191.45 L389.50,195.86 L390.40,195.86 L390.40,198.15 L391.30,198.15 L391.30,200.24 L392.20,200.24 L392.20,202.35 L393.10,202.35 L393.10,203.49 L394.00,203.49 L394.00,197.14 L394.90,197.14 L394.90,203.52 L395.80,203.52 L395.80,203.46 L396.70,203.46 L396.70,203.31 L397.60,203.31 L397.60,201.65 L398.50,201.65 L398.50,201.04 L399.40,201.04 L399.40,201.94 L400.30,201.94 L400.30,200.01 L401.20,200.01 L401.20,197.96 L402.10,197.96 L402.10,192.55 L403.00,192.55 L403.00,196.70 L403.90,196.70 L403.90,196.48 L404.80,196.48" fill="none" stroke="#4a4a4a" stroke-width="0.9" stroke-linejoin="miter" />
<path d="M323.60,220.30 L323.60,168.11 L324.50,168.11 L324.50,187.22 L325.40,187.22 L325.40,169.37 L326.30,169.37 L326.30,169.55 L327.20,169.55 L327.20,149.30 L328.10,149.30 L328.10,183.69 L329.00,183.69 L329.00,136.25 L329.90,136.25 L329.90,168.28 L330.80,168.28 L330.80,143.04 L331.70,143.04 L331.70,165.79 L332.60,165.79 L332.60,132.99 L333.50,132.99 L333.50,165.60 L334.40,165.60 L334.40,134.99 L335.30,134.99 L335.30,168.02 L336.20,168.02 L336.20,145.39 L337.10,145.39 L337.10,164.81 L338.00,164.81 L338.00,139.21 L338.90,139.21 L338.90,152.94 L339.80,152.94 L339.80,148.43 L340.70,148.43 L340.70,144.94 L341.60,144.94 L341.60,126.32 L342.50,126.32 L342.50,173.19 L343.40,173.19 L343.40,130.73 L344.30,130.73 L344.30,145.25 L345.20,145.25 L345.20,100.85 L346.10,100.85 L346.10,173.27 L347.00,173.27 L347.00,118.87 L347.90,118.87 L347.90,144.48 L348.80,144.48 L348.80,118.34 L349.70,118.34 L349.70,143.98 L350.60,143.98 L350.60,120.87 L351.50,120.87 L351.50,145.96 L352.40,145.96 L352.40,120.84 L353.30,120.84 L353.30,169.55 L354.20,169.55 L354.20,113.33 L355.10,113.33 L355.10,155.65 L356.00,155.65 L356.00,115.50 L356.90,115.50 L356.90,138.01 L357.80,138.01 L357.80,138.96 L358.70,138.96 L358.70,159.71 L359.60,159.71 L359.60,117.76 L360.50,117.76 L360.50,156.99 L361.40,156.99 L361.40,119.11 L362.30,119.11 L362.30,150.42 L363.20,150.42 L363.20,138.85 L364.10,138.85 L364.10,153.86 L365.00,153.86 L365.00,126.34 L365.90,126.34 L365.90,156.19 L366.80,156.19 L366.80,155.87 L367.70,155.87 L367.70,177.96 L368.60,177.96 L368.60,164.43 L369.50,164.43 L369.50,179.07 L370.40,179.07 L370.40,148.69 L371.30,148.69 L371.30,180.30 L372.20,180.30 L372.20,150.59 L373.10,150.59 L373.10,178.12 L374.00,178.12 L374.00,153.59 L374.90,153.59 L374.90,167.48 L375.80,167.48 L375.80,151.07 L376.70,151.07 L376.70,176.61 L377.60,176.61 L377.60,167.53 L378.50,167.53 L378.50,198.09 L379.40,198.09 L379.40,180.78 L380.30,180.78 L380.30,194.93 L381.20,194.93 L381.20,183.11 L382.10,183.11 L382.10,183.88 L383.00,183.88 L383.00,184.71 L383.90,184.71 L383.90,191.10 L384.80,191.10 L384.80,177.45 L385.70,177.45 L385.70,199.90 L386.60,199.90 L386.60,181.09 L387.50,181.09 L387.50,190.32 L388.40,190.32 L388.40,180.22 L389.30,180.22 L389.30,188.68 L390.20,188.68 L390.20,181.25 L391.10,181.25 L391.10,192.10 L392.00,192.10 L392.00,184.95 L392.90,184.95 L392.90,194.79 L393.80,194.79 L393.80,184.18 L394.70,184.18 L394.70,195.45 L395.60,195.45 L395.60,184.38 L396.50,184.38 L396.50,205.20 L397.40,205.20 L397.40,192.17 L398.30,192.17 L398.30,206.32 L399.20,206.32 L399.20,195.09 L400.10,195.09 L400.10,214.28 L401.00,214.28 L401.00,198.21 L401.90,198.21 L401.90,200.99 L402.80,200.99 L402.80,194.13 L403.70,194.13 L403.70,208.78 L404.60,208.78 L404.60,196.63 L405.50,196.63 L405.50,205.36 L406.40,205.36 L406.40,199.29 L407.30,199.29 L407.30,205.24 L408.20,205.24 L408.20,198.84 L409.10,198.84 L409.10,206.15 L410.00,206.15 L410.00,196.89 L410.90,196.89 L410.90,201.23 L411.80,201.23 L411.80,191.61 L412.70,191.61 L412.70,196.86 L413.60,196.86 L413.60,189.88 L414.50,189.88 L414.50,191.60 L415.40,191.60 L415.40,180.45 L416.30,180.45 L416.30,195.92 L417.20,195.92 L417.20,177.52 L418.10,177.52 L418.10,182.79 L419.00,182.79 L419.00,178.52 L419.90,178.52 L419.90,184.46 L420.80,184.46 L420.80,177.45 L421.70,177.45 L421.70,176.72 L422.60,176.72 L422.60,171.33 L423.50,171.33 L423.50,179.66 L424.40,179.66 L424.40,168.50 L425.30,168.50 L425.30,172.03 L426.20,172.03 L426.20,166.95 L427.10,166.95 L427.10,172.64 L428.00,172.64 L428.00,172.53 L428.90,172.53 L428.90,180.47 L429.80,180.47 L429.80,178.08 L430.70,178.08 L430.70,177.32 L431.60,177.32 L431.60,167.73 L432.50,167.73 L432.50,190.69 L433.40,190.69 L433.40,186.77 L434.30,186.77 L434.30,190.45 L435.20,190.45 L435.20,184.17 L436.10,184.17 L436.10,199.54 L437.00,199.54 L437.00,197.13 L437.90,197.13 L437.90,198.55 L438.80,198.55 L438.80,196.67 L439.70,196.67 L439.70,204.09 L440.60,204.09 L440.60,199.18 L441.50,199.18 L441.50,206.00 L442.40,206.00 L442.40,205.49 L443.30,205.49 L443.30,211.33 L444.20,211.33 L444.20,207.77 L445.10,207.77 L445.10,210.54 L446.00,210.54 L446.00,212.33 L446.90,212.33 L446.90,215.46 L447.80,215.46 L447.80,212.90 L448.70,212.90 L448.70,216.53 L449.60,216.53 L449.60,216.78 L450.50,216.78 L450.50,217.15 L451.40,217.15 L451.40,217.82 L452.30,217.82 L452.30,218.50 L453.20,218.50 L453.20,218.33 L454.10,218.33 L454.10,219.60 L455.00,219.60 L455.00,219.41 L455.90,219.41 L455.90,219.79 L456.80,219.79 L456.80,219.77 L457.70,219.77 L457.70,219.97 L458.60,219.97 L458.60,219.47 L459.50,219.47 L459.50,219.78 L460.40,219.78 L460.40,219.70 L461.30,219.70 L461.30,219.97 L462.20,219.97 L462.20,219.83 L463.10,219.83 L463.10,220.06 L464.00,220.06 L464.00,219.57 L464.90,219.57 L464.90,220.01 L465.80,220.01 L465.80,219.60 L466.70,219.60 L466.70,220.17 L467.60,220.17 L467.60,219.78 L468.50,219.78 L468.50,219.74 L469.40,219.74 L469.40,219.45 L470.30,219.45 L470.30,219.78 L471.20,219.78 L471.20,219.43 L472.10,219.43 L472.10,219.74 L473.00,219.74 L473.00,219.52 L473.90,219.52 L473.90,220.20 L474.80,220.20 L474.80,219.64 L475.70,219.64 L475.70,219.93 L476.60,219.93 L476.60,219.58 L477.50,219.58 L477.50,220.12 L478.40,220.12 L478.40,219.91 L479.30,219.91 L479.30,220.03 L480.20,220.03 L480.20,219.44 L481.10,219.44 L481.10,220.08 L482.00,220.08 L482.00,219.43 L482.90,219.43 L482.90,220.07 L483.80,220.07 L483.80,219.80 L484.70,219.80 L484.70,219.81 L485.60,219.81 L485.60,219.71 L486.50,219.71 L486.50,220.06 L487.40,220.06 L487.40,219.60 L488.30,219.60 L488.30,220.30 L489.20,220.30 L489.20,219.86 L490.10,219.86 L490.10,220.03 L491.00,220.03 L491.00,219.48 L491.90,219.48 L491.90,220.12 L492.80,220.12 L492.80,219.88 L493.70,219.88 L493.70,220.03 L494.60,220.03 L494.60,219.88 L495.50,219.88 L495.50,220.30 L496.40,220.30 L496.40,219.59 L497.30,219.59 L497.30,220.16 L498.20,220.16 L498.20,219.96 L499.10,219.96 L499.10,220.30 L500.00,220.30 L500.00,219.77 L500.90,219.77 L500.50,220.30" fill="none" stroke="#000" stroke-width="1.1" stroke-linejoin="miter" />
<path d="M323.90,220.30 L323.90,173.05 L325.00,173.05 L325.00,183.11 L326.10,183.11 L326.10,156.66 L327.20,156.66 L327.20,169.47 L328.30,169.47 L328.30,139.53 L329.40,139.53 L329.40,166.60 L330.50,166.60 L330.50,128.72 L331.60,128.72 L331.60,159.90 L332.70,159.90 L332.70,140.97 L333.80,140.97 L333.80,168.16 L334.90,168.16 L334.90,135.54 L336.00,135.54 L336.00,149.93 L337.10,149.93 L337.10,137.83 L338.20,137.83 L338.20,158.68 L339.30,158.68 L339.30,124.48 L340.40,124.48 L340.40,154.02 L341.50,154.02 L341.50,106.78 L342.60,106.78 L342.60,148.26 L343.70,148.26 L343.70,123.33 L344.80,123.33 L344.80,161.26 L345.90,161.26 L345.90,124.12 L347.00,124.12 L347.00,123.96 L348.10,123.96 L348.10,100.95 L349.20,100.95 L349.20,147.11 L350.30,147.11 L350.30,111.59 L351.40,111.59 L351.40,153.48 L352.50,153.48 L352.50,124.04 L353.60,124.04 L353.60,162.34 L354.70,162.34 L354.70,105.74 L355.80,105.74 L355.80,140.19 L356.90,140.19 L356.90,120.19 L358.00,120.19 L358.00,153.45 L359.10,153.45 L359.10,134.02 L360.20,134.02 L360.20,155.25 L361.30,155.25 L361.30,137.46 L362.40,137.46 L362.40,149.25 L363.50,149.25 L363.50,141.06 L364.60,141.06 L364.60,152.28 L365.70,152.28 L365.70,142.23 L366.80,142.23 L366.80,171.52 L367.90,171.52 L367.90,157.02 L369.00,157.02 L369.00,168.80 L370.10,168.80 L370.10,160.89 L371.20,160.89 L371.20,176.07 L372.30,176.07 L372.30,159.12 L373.40,159.12 L373.40,178.05 L374.50,178.05 L374.50,169.15 L375.60,169.15 L375.60,172.32 L376.70,172.32 L376.70,166.07 L377.80,166.07 L377.80,185.54 L378.90,185.54 L378.90,168.41 L380.00,168.41 L380.00,189.92 L381.10,189.92 L381.10,176.45 L382.20,176.45 L382.20,188.29 L383.30,188.29 L383.30,182.19 L384.40,182.19 L384.40,194.22 L385.50,194.22 L385.50,185.25 L386.60,185.25 L386.60,197.20 L387.70,197.20 L387.70,189.79 L388.80,189.79 L388.80,202.78 L389.90,202.78 L389.90,184.54 L391.00,184.54 L391.00,195.24 L392.10,195.24 L392.10,184.72 L393.20,184.72 L393.20,197.92 L394.30,197.92 L394.30,191.36 L395.40,191.36 L395.40,199.57 L396.50,199.57 L396.50,193.87 L397.60,193.87 L397.60,203.73 L398.70,203.73 L398.70,194.87 L399.80,194.87 L399.80,210.24 L400.90,210.24 L400.90,194.68 L402.00,194.68 L402.00,202.39 L403.10,202.39 L403.10,201.70 L404.20,201.70 L404.20,204.91 L405.30,204.91 L405.30,201.44 L406.40,201.44 L406.40,202.82 L407.50,202.82 L407.50,200.89 L408.60,200.89 L408.60,202.68 L409.70,202.68 L409.70,201.16 L410.80,201.16 L410.80,200.41 L411.90,200.41 L411.90,194.52 L413.00,194.52 L413.00,193.66 L414.10,193.66 L414.10,190.10 L415.20,190.10 L415.20,189.23 L416.30,189.23 L416.30,179.38 L417.40,179.38 L417.40,190.34 L418.50,190.34 L418.50,173.09 L419.60,173.09 L419.60,182.19 L420.70,182.19 L420.70,173.62 L421.80,173.62 L421.80,179.93 L422.90,179.93 L422.90,169.11 L424.00,169.11 L424.00,177.70 L425.10,177.70 L425.10,167.66 L426.20,167.66 L426.20,175.08 L427.30,175.08 L427.30,165.63 L428.40,165.63 L428.40,180.01 L429.50,180.01 L429.50,167.72 L430.60,167.72 L430.60,184.69 L431.70,184.69 L431.70,177.59 L432.80,177.59 L432.80,185.67 L433.90,185.67 L433.90,183.31 L435.00,183.31 L435.00,193.81 L436.10,193.81 L436.10,187.14 L437.20,187.14 L437.20,196.43 L438.30,196.43 L438.30,196.05 L439.40,196.05 L439.40,202.68 L440.50,202.68 L440.50,202.83 L441.60,202.83 L441.60,205.92 L442.70,205.92 L442.70,207.15 L443.80,207.15 L443.80,209.67 L444.90,209.67 L444.90,211.50 L446.00,211.50 L446.00,211.80 L447.10,211.80 L447.10,215.58 L448.20,215.58 L448.20,214.04 L449.30,214.04 L449.30,218.08 L450.40,218.08 L450.40,217.63 L451.50,217.63 L451.50,219.40 L452.60,219.40 L452.60,218.28 L453.70,218.28 L453.70,220.30 L454.80,220.30 L454.80,218.54 L455.90,218.54 L455.90,220.30 L457.00,220.30 L457.00,220.30 L458.10,220.30 L458.10,220.30 L459.20,220.30 L459.20,219.89 L460.30,219.89 L460.30,220.30 L461.40,220.30 L461.40,219.22 L462.50,219.22 L462.50,220.30 L463.60,220.30 L463.60,217.86 L464.70,217.86 L464.70,220.30 L465.80,220.30 L465.80,216.80 L466.90,216.80 L466.90,220.30 L468.00,220.30 L468.00,217.33 L469.10,217.33 L469.10,220.30 L470.20,220.30 L470.20,218.26 L471.30,218.26 L471.30,220.30 L472.40,220.30 L472.40,219.66 L473.50,219.66 L473.50,220.30 L474.60,220.30 L474.60,219.29 L475.70,219.29 L475.70,219.99 L476.80,219.99 L476.80,218.31 L477.90,218.31 L477.90,220.30 L479.00,220.30 L479.00,216.80 L480.10,216.80 L480.10,220.30 L481.20,220.30 L481.20,218.01 L482.30,218.01 L482.30,220.30 L483.40,220.30 L483.40,219.53 L484.50,219.53 L484.50,220.30 L485.60,220.30 L485.60,217.64 L486.70,217.64 L486.70,219.84 L487.80,219.84 L487.80,217.73 L488.90,217.73 L488.90,220.30 L490.00,220.30 L490.00,217.28 L491.10,217.28 L491.10,220.30 L492.20,220.30 L492.20,218.31 L493.30,218.31 L493.30,220.30 L494.40,220.30 L494.40,220.13 L495.50,220.13 L495.50,220.30 L496.60,220.30 L496.60,218.77 L497.70,218.77 L497.70,220.30 L498.80,220.30 L498.80,217.04 L499.90,217.04 L499.90,220.30 L501.00,220.30 L500.50,220.30" fill="none" stroke="#000" stroke-width="1.0" stroke-linejoin="miter" />
<line x1="323.6" y1="98.5" x2="323.6" y2="152" stroke="#000" stroke-width="1.3"/>
<path d="M34.20,468.50 L34.20,446.80 L35.10,446.80 L35.10,445.82 L36.00,445.82 L36.00,444.47 L36.90,444.47 L36.90,443.87 L37.80,443.87 L37.80,442.90 L38.70,442.90 L38.70,439.04 L39.60,439.04 L39.60,440.95 L40.50,440.95 L40.50,439.98 L41.40,439.98 L41.40,439.02 L42.30,439.02 L42.30,428.93 L43.20,428.93 L43.20,437.09 L44.10,437.09 L44.10,418.60 L45.00,418.60 L45.00,435.16 L45.90,435.16 L45.90,429.78 L46.80,429.78 L46.80,433.34 L47.70,433.34 L47.70,432.78 L48.60,432.78 L48.60,432.22 L49.50,432.22 L49.50,431.66 L50.40,431.66 L50.40,431.26 L51.30,431.26 L51.30,430.19 L52.20,430.19 L52.20,428.31 L53.10,428.31 L53.10,420.16 L54.00,420.16 L54.00,429.73 L54.90,429.73 L54.90,429.29 L55.80,429.29 L55.80,428.75 L56.70,428.75 L56.70,424.14 L57.60,424.14 L57.60,427.67 L58.50,427.67 L58.50,398.14 L59.40,398.14 L59.40,426.59 L60.30,426.59 L60.30,425.19 L61.20,425.19 L61.20,425.84 L62.10,425.84 L62.10,425.48 L63.00,425.48 L63.00,425.12 L63.90,425.12 L63.90,424.76 L64.80,424.76 L64.80,424.35 L65.70,424.35 L65.70,423.81 L66.60,423.81 L66.60,418.30 L67.50,418.30 L67.50,402.18 L68.40,402.18 L68.40,422.19 L69.30,422.19 L69.30,417.26 L70.20,417.26 L70.20,421.37 L71.10,421.37 L71.10,421.19 L72.00,421.19 L72.00,421.01 L72.90,421.01 L72.90,420.83 L73.80,420.83 L73.80,389.73 L74.70,389.73 L74.70,420.43 L75.60,420.43 L75.60,419.98 L76.50,419.98 L76.50,419.53 L77.40,419.53 L77.40,387.88 L78.30,387.88 L78.30,418.63 L79.20,418.63 L79.20,411.45 L80.10,411.45 L80.10,391.70 L81.00,391.70 L81.00,417.56 L81.90,417.56 L81.90,417.20 L82.80,417.20 L82.80,417.03 L83.70,417.03 L83.70,416.75 L84.60,416.75 L84.60,416.54 L85.50,416.54 L85.50,403.50 L86.40,403.50 L86.40,415.85 L87.30,415.85 L87.30,418.70 L88.20,418.70 L88.20,419.42 L89.10,419.42 L89.10,420.14 L90.00,420.14 L90.00,420.95 L90.90,420.95 L90.90,421.98 L91.80,421.98 L91.80,422.97 L92.70,422.97 L92.70,415.87 L93.60,415.87 L93.60,424.95 L94.50,424.95 L94.50,425.94 L95.40,425.94 L95.40,407.59 L96.30,407.59 L96.30,428.80 L97.20,428.80 L97.20,410.92 L98.10,410.92 L98.10,431.68 L99.00,431.68 L99.00,433.12 L99.90,433.12 L99.90,434.20 L100.80,434.20 L100.80,432.64 L101.70,432.64 L101.70,437.65 L102.60,437.65 L102.60,439.18 L103.50,439.18 L103.50,440.71 L104.40,440.71 L104.40,442.24 L105.30,442.24 L105.30,437.26 L106.20,437.26 L106.20,445.80 L107.10,445.80 L107.10,447.60 L108.00,447.60 L108.00,449.40 L108.90,449.40 L108.90,451.20 L109.80,451.20 L109.80,452.87 L110.70,452.87 L110.70,454.22 L111.60,454.22 L111.60,438.81 L112.50,438.81 L112.50,456.92 L113.40,456.92 L113.40,454.70 L114.30,454.70 L114.30,450.83 L115.20,450.83 L115.20,460.25 L116.10,460.25 L116.10,460.77 L117.00,460.77 L117.00,461.22 L117.90,461.22 L117.90,461.67 L118.80,461.67 L118.80,458.96 L119.70,458.96 L119.70,462.51 L120.60,462.51 L120.60,462.55 L121.50,462.55 L121.50,462.60 L122.40,462.60 L122.40,460.71 L123.30,460.71 L123.30,455.33 L124.20,455.33 L124.20,452.33 L125.10,452.33 L125.10,462.78 L126.00,462.78 L126.00,462.82 L126.90,462.82 L126.90,462.87 L127.80,462.87 L127.80,460.65 L128.70,460.65 L128.70,462.96 L129.60,462.96 L129.60,463.00 L130.50,463.00 L130.50,463.00 L131.40,463.00 L131.40,463.00 L132.30,463.00 L132.30,463.00 L133.20,463.00 L133.20,463.00 L134.10,463.00 L134.10,456.48 L135.00,456.48 L135.00,463.00 L135.90,463.00 L135.90,461.04 L136.80,461.04 L136.80,463.00 L137.70,463.00 L137.70,463.00 L138.60,463.00 L138.60,462.19 L139.50,462.19 L139.50,463.00 L140.40,463.00 L140.40,462.80 L141.30,462.80 L141.30,462.58 L142.20,462.58 L142.20,462.37 L143.10,462.37 L143.10,462.16 L144.00,462.16 L144.00,461.94 L144.90,461.94 L144.90,461.41 L145.80,461.41 L145.80,449.66 L146.70,449.66 L146.70,461.30 L147.60,461.30 L147.60,461.04 L148.50,461.04 L148.50,459.21 L149.40,459.21 L149.40,458.70 L150.30,458.70 L150.30,456.91 L151.20,456.91 L151.20,454.99 L152.10,454.99 L152.10,452.49 L153.00,452.49 L153.00,449.60 L153.90,449.60 L153.90,434.10 L154.80,434.10 L154.80,443.73 L155.70,443.73 L155.70,432.85 L156.60,432.85 L156.60,436.38 L157.50,436.38 L157.50,432.70 L158.40,432.70 L158.40,430.48 L159.30,430.48 L159.30,428.34 L160.20,428.34 L160.20,426.21 L161.10,426.21 L161.10,424.07 L162.00,424.07 L162.00,408.44 L162.90,408.44 L162.90,420.64 L163.80,420.64 L163.80,394.27 L164.70,394.27 L164.70,414.70 L165.60,414.70 L165.60,415.94 L166.50,415.94 L166.50,414.81 L167.40,414.81 L167.40,413.69 L168.30,413.69 L168.30,412.56 L169.20,412.56 L169.20,411.44 L170.10,411.44 L170.10,391.35 L171.00,391.35 L171.00,410.09 L171.90,410.09 L171.90,409.53 L172.80,409.53 L172.80,408.97 L173.70,408.97 L173.70,407.74 L174.60,407.74 L174.60,408.89 L175.50,408.89 L175.50,409.23 L176.40,409.23 L176.40,409.57 L177.30,409.57 L177.30,409.91 L178.20,409.91 L178.20,410.73 L179.10,410.73 L179.10,411.74 L180.00,411.74 L180.00,389.73 L180.90,389.73 L180.90,413.77 L181.80,413.77 L181.80,414.91 L182.70,414.91 L182.70,416.37 L183.60,416.37 L183.60,405.76 L184.50,405.76 L184.50,419.29 L185.40,419.29 L185.40,414.78 L186.30,414.78 L186.30,403.83 L187.20,403.83 L187.20,423.68 L188.10,423.68 L188.10,425.14 L189.00,425.14 L189.00,413.65 L189.90,413.65 L189.90,408.93 L190.80,408.93 L190.80,423.43 L191.70,423.43 L191.70,431.75 L192.60,431.75 L192.60,433.52 L193.50,433.52 L193.50,435.30 L194.40,435.30 L194.40,423.30 L195.30,423.30 L195.30,428.73 L196.20,428.73 L196.20,440.30 L197.10,440.30 L197.10,441.97 L198.00,441.97 L198.00,443.58 L198.90,443.58 L198.90,444.48 L199.80,444.48 L199.80,446.68 L200.70,446.68 L200.70,448.23 L201.60,448.23 L201.60,449.78 L202.50,449.78 L202.50,435.60 L203.40,435.60 L203.40,452.66 L204.30,452.66 L204.30,454.10 L205.20,454.10 L205.20,455.47 L206.10,455.47 L206.10,456.76 L207.00,456.76 L207.00,457.99 L207.90,457.99 L207.90,459.23 L208.80,459.23 L208.80,459.67 L209.70,459.67 L209.70,461.64 L210.60,461.64 L210.60,462.47 L211.50,462.47 L211.50,462.85 L212.40,462.85 L212.40,462.94 L213.30,462.94 L213.30,462.16 L214.20,462.16 L214.20,465.55 L215.10,465.55 L215.10,465.90 L216.00,465.90 L216.00,465.78 L216.90,465.78 L216.90,463.99 L217.80,463.99 L217.80,466.56 L218.70,466.56 L218.70,466.59 L219.60,466.59 L219.60,466.63 L220.50,466.63 L220.50,466.66 L221.40,466.66 L221.40,466.15 L222.30,466.15 L222.30,466.73 L223.20,466.73 L223.20,465.31 L224.10,465.31 L224.10,465.96 L225.00,465.96 L225.00,465.99 L225.90,465.99 L225.90,466.87 L226.80,466.87 L226.80,465.21 L227.70,465.21 L227.70,466.94 L228.60,466.94 L228.60,466.66 L229.50,466.66 L229.50,467.01 L230.40,467.01 L230.40,467.05 L231.30,467.05 L231.30,464.97 L232.20,464.97 L232.20,467.12 L233.10,467.12 L233.10,467.15 L234.00,467.15 L234.00,467.19 L234.90,467.19 L234.90,467.22 L235.80,467.22 L235.80,467.26 L236.70,467.26 L236.70,465.64 L237.60,465.64 L237.60,467.33 L238.50,467.33 L238.50,466.00 L239.40,466.00 L239.40,466.43 L240.30,466.43 L240.30,465.91 L241.20,465.91 L241.20,467.47 L242.10,467.47 L242.10,467.50 L243.00,467.50 L243.00,467.54 L243.90,467.54 L243.90,467.57 L244.80,467.57 L244.80,467.20 L245.70,467.20 L245.70,467.62 L246.60,467.62 L246.60,467.68 L247.50,467.68 L247.50,466.23 L248.40,466.23 L248.40,467.75 L249.30,467.75 L249.30,467.78 L250.20,467.78 L250.20,467.81 L251.10,467.81 L251.10,467.85 L252.00,467.85 L252.00,467.32 L252.90,467.32 L252.90,467.64 L253.80,467.64 L253.80,467.95 L254.70,467.95 L254.70,467.96 L255.60,467.96 L255.60,468.02 L256.50,468.02 L256.50,468.06 L257.40,468.06 L257.40,468.09 L258.30,468.09 L258.00,468.50" fill="none" stroke="#666" stroke-width="0.85" stroke-linejoin="miter" />
<path d="M34.20,468.50 L34.20,432.65 L35.35,432.65 L35.35,459.59 L36.50,459.59 L36.50,425.30 L37.65,425.30 L37.65,449.96 L38.80,449.96 L38.80,442.53 L39.95,442.53 L39.95,454.14 L41.10,454.14 L41.10,426.90 L42.25,426.90 L42.25,449.79 L43.40,449.79 L43.40,435.63 L44.55,435.63 L44.55,449.58 L45.70,449.58 L45.70,428.44 L46.85,428.44 L46.85,450.83 L48.00,450.83 L48.00,411.97 L49.15,411.97 L49.15,445.30 L50.30,445.30 L50.30,419.10 L51.45,419.10 L51.45,429.07 L52.60,429.07 L52.60,415.84 L53.75,415.84 L53.75,429.97 L54.90,429.97 L54.90,419.34 L56.05,419.34 L56.05,433.02 L57.20,433.02 L57.20,414.10 L58.35,414.10 L58.35,431.56 L59.50,431.56 L59.50,406.65 L60.65,406.65 L60.65,448.49 L61.80,448.49 L61.80,413.63 L62.95,413.63 L62.95,437.31 L64.10,437.31 L64.10,414.14 L65.25,414.14 L65.25,421.68 L66.40,421.68 L66.40,417.96 L67.55,417.96 L67.55,438.64 L68.70,438.64 L68.70,406.99 L69.85,406.99 L69.85,435.20 L71.00,435.20 L71.00,414.14 L72.15,414.14 L72.15,430.81 L73.30,430.81 L73.30,426.10 L74.45,426.10 L74.45,436.74 L75.60,436.74 L75.60,411.36 L76.75,411.36 L76.75,427.38 L77.90,427.38 L77.90,405.54 L79.05,405.54 L79.05,427.45 L80.20,427.45 L80.20,411.30 L81.35,411.30 L81.35,437.45 L82.50,437.45 L82.50,402.28 L83.65,402.28 L83.65,419.00 L84.80,419.00 L84.80,395.49 L85.95,395.49 L85.95,428.36 L87.10,428.36 L87.10,408.74 L88.25,408.74 L88.25,421.70 L89.40,421.70 L89.40,408.45 L90.55,408.45 L90.55,423.69 L91.70,423.69 L91.70,413.24 L92.85,413.24 L92.85,419.35 L94.00,419.35 L94.00,423.47 L95.15,423.47 L95.15,430.96 L96.30,430.96 L96.30,415.76 L97.45,415.76 L97.45,447.48 L98.60,447.48 L98.60,437.37 L99.75,437.37 L99.75,437.40 L100.90,437.40 L100.90,433.12 L102.05,433.12 L102.05,441.39 L103.20,441.39 L103.20,438.61 L104.35,438.61 L104.35,444.49 L105.50,444.49 L105.50,438.14 L106.65,438.14 L106.65,456.21 L107.80,456.21 L107.80,444.82 L108.95,444.82 L108.95,455.15 L110.10,455.15 L110.10,448.98 L111.25,448.98 L111.25,454.72 L112.40,454.72 L112.40,455.97 L113.55,455.97 L113.55,461.10 L114.70,461.10 L114.70,459.05 L115.85,459.05 L115.85,462.23 L117.00,462.23 L117.00,457.53 L118.15,457.53 L118.15,464.68 L119.30,464.68 L119.30,462.17 L120.45,462.17 L120.45,464.43 L121.60,464.43 L121.60,461.23 L122.75,461.23 L122.75,465.61 L123.90,465.61 L123.90,459.32 L125.05,459.32 L125.05,466.53 L126.20,466.53 L126.20,459.88 L127.35,459.88 L127.35,467.26 L128.50,467.26 L128.50,461.53 L129.65,461.53 L129.65,464.30 L130.80,464.30 L130.80,461.80 L131.95,461.80 L131.95,462.21 L133.10,462.21 L133.10,461.48 L134.25,461.48 L134.25,465.27 L135.40,465.27 L135.40,462.76 L136.55,462.76 L136.55,463.01 L137.70,463.01 L137.70,463.33 L138.85,463.33 L138.85,466.39 L140.00,466.39 L140.00,459.57 L141.15,459.57 L141.15,463.74 L142.30,463.74 L142.30,461.19 L143.45,461.19 L143.45,465.07 L144.60,465.07 L144.60,459.50 L145.75,459.50 L145.75,462.00 L146.90,462.00 L146.90,460.03 L148.05,460.03 L148.05,466.19 L149.20,466.19 L149.20,455.38 L150.35,455.38 L150.35,456.10 L151.50,456.10 L151.50,450.89 L152.65,450.89 L152.65,460.59 L153.80,460.59 L153.80,438.43 L154.95,438.43 L154.95,451.34 L156.10,451.34 L156.10,420.77 L157.25,420.77 L157.25,441.37 L158.40,441.37 L158.40,438.32 L159.55,438.32 L159.55,437.69 L160.70,437.69 L160.70,419.31 L161.85,419.31 L161.85,425.86 L163.00,425.86 L163.00,411.13 L164.15,411.13 L164.15,425.53 L165.30,425.53 L165.30,407.95 L166.45,407.95 L166.45,447.32 L167.60,447.32 L167.60,397.79 L168.75,397.79 L168.75,444.43 L169.90,444.43 L169.90,407.93 L171.05,407.93 L171.05,429.73 L172.20,429.73 L172.20,407.23 L173.35,407.23 L173.35,428.15 L174.50,428.15 L174.50,411.69 L175.65,411.69 L175.65,417.36 L176.80,417.36 L176.80,408.27 L177.95,408.27 L177.95,417.00 L179.10,417.00 L179.10,410.56 L180.25,410.56 L180.25,409.98 L181.40,409.98 L181.40,416.07 L182.55,416.07 L182.55,426.14 L183.70,426.14 L183.70,420.58 L184.85,420.58 L184.85,438.95 L186.00,438.95 L186.00,421.06 L187.15,421.06 L187.15,432.74 L188.30,432.74 L188.30,410.29 L189.45,410.29 L189.45,428.24 L190.60,428.24 L190.60,413.30 L191.75,413.30 L191.75,436.22 L192.90,436.22 L192.90,430.69 L194.05,430.69 L194.05,439.75 L195.20,439.75 L195.20,432.01 L196.35,432.01 L196.35,442.61 L197.50,442.61 L197.50,435.70 L198.65,435.70 L198.65,446.55 L199.80,446.55 L199.80,442.30 L200.95,442.30 L200.95,451.24 L202.10,451.24 L202.10,450.68 L203.25,450.68 L203.25,456.23 L204.40,456.23 L204.40,449.25 L205.55,449.25 L205.55,456.81 L206.70,456.81 L206.70,454.89 L207.85,454.89 L207.85,462.50 L209.00,462.50 L209.00,461.72 L210.15,461.72 L210.15,462.07 L211.30,462.07 L211.30,462.61 L212.45,462.61 L212.45,465.61 L213.60,465.61 L213.60,464.34 L214.75,464.34 L214.75,467.15 L215.90,467.15 L215.90,465.57 L217.05,465.57 L217.05,467.11 L218.20,467.11 L218.20,466.40 L219.35,466.40 L219.35,467.25 L220.50,467.25 L220.50,466.70 L221.65,466.70 L221.65,466.79 L222.80,466.79 L222.80,466.50 L223.95,466.50 L223.95,467.05 L225.10,467.05 L225.10,466.30 L226.25,466.30 L226.25,467.27 L227.40,467.27 L227.40,466.74 L228.55,466.74 L228.55,467.49 L229.70,467.49 L229.70,467.01 L230.85,467.01 L230.85,467.17 L232.00,467.17 L232.00,466.96 L233.15,466.96 L233.15,467.78 L234.30,467.78 L234.30,467.01 L235.45,467.01 L235.45,467.18 L236.60,467.18 L236.60,467.12 L237.75,467.12 L237.75,467.86 L238.90,467.86 L238.90,467.01 L240.05,467.01 L240.05,467.90 L241.20,467.90 L241.20,467.21 L242.35,467.21 L242.35,467.97 L243.50,467.97 L243.50,467.41 L244.65,467.41 L244.65,468.00 L245.80,468.00 L245.80,467.33 L246.95,467.33 L246.95,467.72 L248.10,467.72 L248.10,467.77 L249.25,467.77 L249.25,467.78 L250.40,467.78 L250.40,467.58 L251.55,467.58 L251.55,468.11 L252.70,468.11 L252.70,467.45 L253.85,467.45 L253.85,467.93 L255.00,467.93 L255.00,467.80 L256.15,467.80 L256.15,468.24 L257.30,468.24 L257.30,468.08 L258.45,468.08 L258.00,468.50" fill="none" stroke="#000" stroke-width="0.95" stroke-linejoin="miter" />
<path d="M150.00,455.13 L150.64,455.13 L150.64,459.99 L151.28,459.99 L151.28,451.87 L151.92,451.87 L151.92,460.27 L152.56,460.27 L152.56,449.41 L153.20,449.41 L153.20,457.76 L153.84,457.76 L153.84,440.00 L154.48,440.00 L154.48,452.91 L155.12,452.91 L155.12,430.32 L155.76,430.32 L155.76,461.74 L156.40,461.74 L156.40,423.18 L157.04,423.18 L157.04,443.75 L157.68,443.75 L157.68,417.94 L158.32,417.94 L158.32,457.40 L158.96,457.40 L158.96,420.82 L159.60,420.82 L159.60,435.24 L160.24,435.24 L160.24,413.35 L160.88,413.35 L160.88,450.27 L161.52,450.27 L161.52,408.54 L162.16,408.54 L162.16,422.58 L162.80,422.58 L162.80,411.75 L163.44,411.75 L163.44,425.78 L164.08,425.78 L164.08,405.53 L164.72,405.53 L164.72,442.38 L165.36,442.38 L165.36,407.58 L166.00,407.58 L166.00,427.17 L166.64,427.17 L166.64,384.71 L167.28,384.71 L167.28,420.04 L167.92,420.04 L167.92,389.79 L168.56,389.79 L168.56,424.28 L169.20,424.28 L169.20,385.69 L169.84,385.69 L169.84,426.23 L170.48,426.23 L170.48,400.16 L171.12,400.16 L171.12,420.57 L171.76,420.57 L171.76,402.99 L172.40,402.99 L172.40,411.64 L173.04,411.64 L173.04,387.45 L173.68,387.45 L173.68,417.55 L174.32,417.55 L174.32,399.15 L174.96,399.15 L174.96,416.71 L175.60,416.71 L175.60,381.80 L176.24,381.80 L176.24,422.92 L176.88,422.92 L176.88,400.72 L177.52,400.72 L177.52,428.61 L178.16,428.61 L178.16,402.30 L178.80,402.30 L178.80,430.22 L179.44,430.22 L179.44,395.10 L180.08,395.10 L180.08,430.89 L180.72,430.89 L180.72,404.84 L181.36,404.84 L181.36,412.85 L182.00,412.85 L182.00,406.47 L182.64,406.47 L182.64,424.82 L183.28,424.82 L183.28,415.76 L183.92,415.76 L183.92,432.37 L184.56,432.37 L184.56,414.46 L185.20,414.46 L185.20,430.10 L185.84,430.10 L185.84,402.97 L186.48,402.97 L186.48,429.68 L187.12,429.68 L187.12,420.98 L187.76,420.98 L187.76,433.57 L188.40,433.57 L188.40,420.42 L189.04,420.42 L189.04,437.41 L189.68,437.41 L189.68,422.47 L190.32,422.47 L190.32,435.48 L190.96,435.48 L190.96,418.10 L191.60,418.10 L191.60,431.64 L192.24,431.64 L192.24,423.76 L192.88,423.76 L192.88,439.09 L193.52,439.09 L193.52,429.80 L194.16,429.80 L194.16,444.99 L194.80,444.99 L194.80,434.63 L195.44,434.63 L195.44,436.63 L196.08,436.63 L196.08,438.92 L196.72,438.92 L196.72,446.53 L197.36,446.53 L197.36,440.60 L198.00,440.60 L198.00,443.90 L198.64,443.90 L198.64,443.97 L199.28,443.97 L199.28,452.77 L199.92,452.77 L199.92,440.07 L200.56,440.07 L200.56,454.06 L201.20,454.06 L201.20,443.94 L201.84,443.94 L201.84,450.38 L202.48,450.38 L202.48,447.56 L203.12,447.56 L203.12,456.86 L203.76,456.86 L203.76,447.50 L204.40,447.50 L204.40,454.98 L205.04,454.98 L205.04,454.04 L205.68,454.04 L205.68,459.10 L206.32,459.10 L206.32,455.22 L206.96,455.22 L206.96,459.54 L207.60,459.54 L207.60,456.24 L208.24,456.24 L208.24,460.70 L208.88,460.70 L208.88,459.81 L209.52,459.81 L209.52,462.17 L210.16,462.17 L210.16,460.74 L210.80,460.74 L210.80,463.70 L211.44,463.70 L211.44,462.37 L212.08,462.37 L212.08,464.14 L212.72,464.14 L212.72,463.72 L213.36,463.72 L213.36,465.09 L214.00,465.09 L214.00,465.27 L214.64,465.27 L214.64,465.92 L215.28,465.92 L215.28,465.82 L215.92,465.82 L215.92,466.05 L216.56,466.05 L216.56,466.36 L217.20,466.36 L217.20,466.16 L217.84,466.16 L217.84,466.64 L218.48,466.64 L218.48,466.58 L219.12,466.58 L219.12,466.74 L219.76,466.74 L219.76,466.42 L220.40,466.42 L220.40,466.70 L221.04,466.70 L221.04,466.44 L221.68,466.44 L221.68,466.88 L222.32,466.88 L222.32,466.31 L222.96,466.31 L222.96,467.20 L223.60,467.20 L223.60,466.61 L224.24,466.61 L224.24,467.33 L224.88,467.33 L224.88,466.38 L225.52,466.38 L225.52,467.13 L226.16,467.13 L226.16,466.60 L226.80,466.60 L226.80,466.98 L227.44,466.98 L227.44,467.06 L228.08,467.06 L228.08,467.30 L228.72,467.30 L228.72,466.50 L229.36,466.50 L229.36,467.18 L230.00,467.18 L230.00,466.61 L230.64,466.61 L230.64,467.70 L231.28,467.70 L231.28,466.50 L231.92,466.50 L231.92,467.49 L232.56,467.49 L232.56,466.51 L233.20,466.51 L233.20,467.55 L233.84,467.55 L233.84,466.78 L234.48,466.78 L234.48,467.53 L235.12,467.53 L235.12,466.94 L235.76,466.94 L235.76,467.68 L236.40,467.68 L236.40,466.68 L237.04,466.68 L237.04,467.50 L237.68,467.50 L237.68,467.08 L238.32,467.08 L238.32,467.76 L238.96,467.76 L238.96,466.90 L239.60,466.90 L239.60,467.85 L240.24,467.85 L240.24,467.07 L240.88,467.07 L240.88,467.73 L241.52,467.73 L241.52,466.98 L242.16,466.98 L242.16,467.73 L242.80,467.73 L242.80,467.14 L243.44,467.14 L243.44,467.77 L244.08,467.77 L244.08,467.27 L244.72,467.27 L244.72,468.27 L245.36,468.27 L245.36,467.08 L246.00,467.08 L246.00,468.39 L246.64,468.39 L246.64,466.78 L247.28,466.78 L247.28,468.38 L247.92,468.38 L247.92,467.35 L248.56,467.35 L248.56,468.10 L249.20,468.10 L249.20,467.83 L249.84,467.83 L249.84,468.36 L250.48,468.36 L250.48,467.46 L251.12,467.46 L251.12,468.19 L251.76,468.19 L251.76,467.14 L252.40,467.14 L252.40,468.50 L253.04,468.50 L253.04,467.86 L253.68,467.86 L253.68,467.93 L254.32,467.93 L254.32,467.64 L254.96,467.64 L254.96,468.40 L255.60,468.40 L255.60,467.48 L256.24,467.48 L256.24,468.12 L256.88,468.12 L256.88,467.47 L257.52,467.47 L257.52,468.30 L258.16,468.30" fill="none" stroke="#111" stroke-width="0.8" stroke-linejoin="miter" />
<path d="M156.00,426.96 L156.60,426.96 L156.60,438.29 L157.20,438.29 L157.20,418.79 L157.80,418.79 L157.80,444.05 L158.40,444.05 L158.40,410.60 L159.00,410.60 L159.00,439.53 L159.60,439.53 L159.60,416.33 L160.20,416.33 L160.20,442.19 L160.80,442.19 L160.80,411.49 L161.40,411.49 L161.40,437.35 L162.00,437.35 L162.00,403.26 L162.60,403.26 L162.60,428.68 L163.20,428.68 L163.20,402.06 L163.80,402.06 L163.80,432.72 L164.40,432.72 L164.40,389.37 L165.00,389.37 L165.00,431.50 L165.60,431.50 L165.60,408.09 L166.20,408.09 L166.20,426.65 L166.80,426.65 L166.80,401.03 L167.40,401.03 L167.40,421.55 L168.00,421.55 L168.00,406.51 L168.60,406.51 L168.60,433.64 L169.20,433.64 L169.20,402.68 L169.80,402.68 L169.80,425.32 L170.40,425.32 L170.40,395.36 L171.00,395.36 L171.00,427.38 L171.60,427.38 L171.60,393.45 L172.20,393.45 L172.20,424.96 L172.80,424.96 L172.80,391.36 L173.40,391.36 L173.40,429.36 L174.00,429.36 L174.00,398.37 L174.60,398.37 L174.60,421.73 L175.20,421.73 L175.20,394.75 L175.80,394.75 L175.80,427.23 L176.40,427.23 L176.40,392.77 L177.00,392.77 L177.00,422.22 L177.60,422.22 L177.60,395.61 L178.20,395.61 L178.20,421.95 L178.80,421.95 L178.80,401.48 L179.40,401.48 L179.40,424.81 L180.00,424.81 L180.00,405.49 L180.60,405.49 L180.60,422.19 L181.20,422.19 L181.20,399.78 L181.80,399.78 L181.80,424.79 L182.40,424.79 L182.40,405.08 L183.00,405.08 L183.00,430.06 L183.60,430.06 L183.60,404.96 L184.20,404.96 L184.20,426.96 L184.80,426.96 L184.80,408.54 L185.40,408.54 L185.40,424.66 L186.00,424.66 L186.00,409.99 L186.60,409.99 L186.60,430.46 L187.20,430.46 L187.20,419.96 L187.80,419.96 L187.80,429.72 L188.40,429.72 L188.40,417.96 L189.00,417.96 L189.00,434.57 L189.60,434.57 L189.60,416.93 L190.20,416.93 L190.20,432.95 L190.80,432.95 L190.80,425.46 L191.40,425.46 L191.40,439.04 L192.00,439.04 L192.00,424.40 L192.60,424.40 L192.60,439.08 L193.20,439.08 L193.20,427.78 L193.80,427.78 L193.80,438.66 L194.40,438.66 L194.40,429.24 L195.00,429.24 L195.00,441.43 L195.60,441.43 L195.60,434.78 L196.20,434.78" fill="none" stroke="#000" stroke-width="0.9" stroke-linejoin="miter" />
<path d="M34.20,468.50 L34.20,421.55 L34.84,421.55 L34.84,443.41 L35.48,443.41 L35.48,420.19 L36.12,420.19 L36.12,451.53 L36.76,451.53 L36.76,413.66 L37.40,413.66 L37.40,436.40 L38.04,436.40 L38.04,416.30 L38.68,416.30 L38.68,435.28 L39.32,435.28 L39.32,416.06 L39.96,416.06 L39.96,440.52 L40.60,440.52 L40.60,414.06 L41.24,414.06 L41.24,441.03 L41.88,441.03 L41.88,417.48 L42.52,417.48 L42.52,426.10 L43.16,426.10 L43.16,410.53 L43.80,410.53 L43.80,426.80 L44.44,426.80 L44.44,407.14 L45.08,407.14 L45.08,436.60 L45.72,436.60 L45.72,402.75 L46.36,402.75 L46.36,428.08 L47.00,428.08 L47.00,407.83 L47.64,407.83 L47.64,435.53 L48.28,435.53 L48.28,394.75 L48.92,394.75 L48.92,427.91 L49.56,427.91 L49.56,392.56 L50.20,392.56 L50.20,415.52 L50.84,415.52 L50.84,409.79 L51.48,409.79 L51.48,431.56 L52.12,431.56 L52.12,396.28 L52.76,396.28 L52.76,416.30 L53.40,416.30 L53.40,389.20 L54.04,389.20 L54.04,422.56 L54.68,422.56 L54.68,393.22 L55.32,393.22 L55.32,413.94 L55.96,413.94 L55.96,376.82 L56.60,376.82 L56.60,412.33 L57.24,412.33 L57.24,380.65 L57.88,380.65 L57.88,410.36 L58.52,410.36 L58.52,379.70 L59.16,379.70 L59.16,413.80 L59.80,413.80 L59.80,388.27 L60.44,388.27 L60.44,409.67 L61.08,409.67 L61.08,390.00 L61.72,390.00 L61.72,406.68 L62.36,406.68 L62.36,381.92 L63.00,381.92 L63.00,398.95 L63.64,398.95 L63.64,385.34 L64.28,385.34 L64.28,417.80 L64.92,417.80 L64.92,390.71 L65.56,390.71 L65.56,399.05 L66.20,399.05 L66.20,394.59 L66.84,394.59 L66.84,412.89 L67.48,412.89 L67.48,384.78 L68.12,384.78 L68.12,406.01 L68.76,406.01 L68.76,386.87 L69.40,386.87 L69.40,417.16 L70.04,417.16 L70.04,386.35 L70.68,386.35 L70.68,407.50 L71.32,407.50 L71.32,389.01 L71.96,389.01 L71.96,419.40 L72.60,419.40 L72.60,381.83 L73.24,381.83 L73.24,406.42 L73.88,406.42 L73.88,382.07 L74.52,382.07 L74.52,401.22 L75.16,401.22 L75.16,386.09 L75.80,386.09 L75.80,409.41 L76.44,409.41 L76.44,384.13 L77.08,384.13 L77.08,414.17 L77.72,414.17 L77.72,379.47 L78.36,379.47 L78.36,411.66 L79.00,411.66 L79.00,392.99 L79.64,392.99 L79.64,406.53 L80.28,406.53 L80.28,372.06 L80.92,372.06 L80.92,423.30 L81.56,423.30 L81.56,379.79 L82.20,379.79 L82.20,401.18 L82.84,401.18 L82.84,380.04 L83.48,380.04 L83.48,410.10 L84.12,410.10 L84.12,391.13 L84.76,391.13 L84.76,412.10 L85.40,412.10 L85.40,402.06 L86.04,402.06 L86.04,415.74 L86.68,415.74 L86.68,397.37 L87.32,397.37 L87.32,416.66 L87.96,416.66 L87.96,398.38 L88.60,398.38 L88.60,419.77 L89.24,419.77 L89.24,408.56 L89.88,408.56 L89.88,424.84 L90.52,424.84 L90.52,411.89 L91.16,411.89 L91.16,422.14 L91.80,422.14 L91.80,411.49 L92.44,411.49 L92.44,426.94 L93.08,426.94 L93.08,415.47 L93.72,415.47 L93.72,424.65 L94.36,424.65 L94.36,420.80 L95.00,420.80 L95.00,430.69 L95.64,430.69 L95.64,424.28 L96.28,424.28 L96.28,429.80 L96.92,429.80 L96.92,424.11 L97.56,424.11 L97.56,434.50 L98.20,434.50 L98.20,428.93 L98.84,428.93 L98.84,435.64 L99.48,435.64 L99.48,429.67 L100.12,429.67 L100.12,437.17 L100.76,437.17 L100.76,433.05 L101.40,433.05 L101.40,440.63 L102.04,440.63 L102.04,438.48 L102.68,438.48 L102.68,443.60 L103.32,443.60 L103.32,441.04 L103.96,441.04 L103.96,445.47 L104.60,445.47 L104.60,444.53 L105.24,444.53 L105.24,448.27 L105.88,448.27 L105.88,447.28 L106.52,447.28 L106.52,452.97 L107.16,452.97 L107.16,448.48 L107.80,448.48 L107.80,454.70 L108.44,454.70 L108.44,452.46 L109.08,452.46 L109.08,456.25 L109.72,456.25 L109.72,454.99 L110.36,454.99 L110.36,458.98 L111.00,458.98 L111.00,456.43 L111.64,456.43 L111.64,460.32 L112.28,460.32 L112.28,457.69 L112.92,457.69 L112.92,461.44 L113.56,461.44 L113.56,458.98 L114.20,458.98 L114.20,463.02 L114.84,463.02 L114.84,459.68 L115.48,459.68 L115.48,463.56 L116.12,463.56 L116.12,460.61 L116.76,460.61 L116.76,465.69 L117.40,465.69 L117.40,460.46 L118.04,460.46 L118.04,463.99 L118.68,463.99 L118.68,459.95 L119.32,459.95 L119.32,464.03 L119.96,464.03 L119.96,460.52 L120.60,460.52 L120.60,463.61 L121.24,463.61 L121.24,461.02 L121.88,461.02 L121.88,464.22 L122.52,464.22 L122.52,459.52 L123.16,459.52 L123.16,463.89 L123.80,463.89 L123.80,459.50 L124.44,459.50 L124.44,465.02 L125.08,465.02 L125.08,460.65 L125.72,460.65 L125.72,462.36 L126.36,462.36 L126.36,458.44 L127.00,458.44 L127.00,465.76 L127.64,465.76 L127.64,458.59 L128.28,458.59 L128.28,464.30 L128.92,464.30 L128.92,457.81 L129.56,457.81 L129.56,463.40 L130.20,463.40 L130.20,458.65 L130.84,458.65 L130.84,465.03 L131.48,465.03 L131.48,459.70 L132.12,459.70 L132.12,463.87 L132.76,463.87 L132.76,459.18 L133.40,459.18 L133.40,465.18 L134.04,465.18 L134.04,460.45 L134.68,460.45 L134.68,465.24 L135.32,465.24 L135.32,458.30 L135.96,458.30 L135.96,465.06 L136.60,465.06 L136.60,456.42 L137.24,456.42 L137.24,464.99 L137.88,464.99 L137.88,457.63 L138.52,457.63 L138.52,463.72 L139.16,463.72 L139.16,459.38 L139.80,459.38 L139.80,464.28 L140.44,464.28 L140.44,459.15 L141.08,459.15 L141.08,465.07 L141.72,465.07 L141.72,459.11 L142.36,459.11 L142.36,463.29 L143.00,463.29 L143.00,456.04 L143.64,456.04 L143.64,464.92 L144.28,464.92 L144.28,457.27 L144.92,457.27 L144.92,465.51 L145.56,465.51 L145.56,456.95 L146.20,456.95 L146.20,463.67 L146.84,463.67 L146.84,457.71 L147.48,457.71 L147.48,463.36 L148.12,463.36 L148.12,456.35 L148.76,456.35 L148.76,465.12 L149.40,465.12 L149.40,454.48 L150.04,454.48 L150.04,462.70 L150.68,462.70 L150.68,453.64 L151.32,453.64 L151.32,463.06 L151.96,463.06 L151.96,454.92 L152.60,454.92 L152.60,464.12 L153.24,464.12 L153.24,454.43 L153.88,454.43 L153.88,457.94 L154.52,457.94 L154.52,455.01 L155.16,455.01 L155.16,456.86 L155.80,456.86 L155.80,450.41 L156.44,450.41 L156.44,460.00 L157.08,460.00 L157.08,446.89 L157.72,446.89 L157.72,462.29 L158.36,462.29 L158.36,439.74 L159.00,439.74 L159.00,465.36 L159.64,465.36 L159.64,438.20 L160.28,438.20 L160.28,457.04 L160.92,457.04 L160.92,445.23 L161.56,445.23 L161.56,458.37 L162.20,458.37 L162.20,440.71 L162.84,440.71 L162.84,458.92 L163.48,458.92 L163.48,435.51 L164.12,435.51 L164.12,451.56 L164.76,451.56 L164.76,432.71 L165.40,432.71 L165.40,456.46 L166.04,456.46 L166.04,434.71 L166.68,434.71 L166.68,450.15 L167.32,450.15 L167.32,418.46 L167.96,418.46 L167.96,454.45 L168.60,454.45 L168.60,430.78 L169.24,430.78 L169.24,443.69 L169.88,443.69 L169.88,421.17 L170.52,421.17 L170.52,463.50 L171.16,463.50 L171.16,424.44 L171.80,424.44 L171.80,443.18 L172.44,443.18 L172.44,417.83 L173.08,417.83 L173.08,452.50 L173.72,452.50 L173.72,417.56 L174.36,417.56 L174.36,447.84 L175.00,447.84 L175.00,422.53 L175.64,422.53 L175.64,452.58 L176.28,452.58 L176.28,421.97 L176.92,421.97 L176.92,449.25 L177.56,449.25 L177.56,422.04 L178.20,422.04 L178.20,431.66 L178.84,431.66 L178.84,409.48 L179.48,409.48 L179.48,440.69 L180.12,440.69 L180.12,414.66 L180.76,414.66 L180.76,439.12 L181.40,439.12 L181.40,420.40 L182.04,420.40 L182.04,452.87 L182.68,452.87 L182.68,421.27 L183.32,421.27 L183.32,442.19 L183.96,442.19 L183.96,413.60 L184.60,413.60 L184.60,443.33 L185.24,443.33 L185.24,427.87 L185.88,427.87 L185.88,448.46 L186.52,448.46 L186.52,427.26 L187.16,427.26 L187.16,448.18 L187.80,448.18 L187.80,423.04 L188.44,423.04 L188.44,457.41 L189.08,457.41 L189.08,423.44 L189.72,423.44 L189.72,444.66 L190.36,444.66 L190.36,425.88 L191.00,425.88 L191.00,446.33 L191.64,446.33 L191.64,436.99 L192.28,436.99 L192.28,450.81 L192.92,450.81 L192.92,437.87 L193.56,437.87 L193.56,449.77 L194.20,449.77 L194.20,437.64 L194.84,437.64 L194.84,450.17 L195.48,450.17 L195.48,441.41 L196.12,441.41 L196.12,450.58 L196.76,450.58 L196.76,439.93 L197.40,439.93 L197.40,451.98 L198.04,451.98 L198.04,441.39 L198.68,441.39 L198.68,447.65 L199.32,447.65 L199.32,443.75 L199.96,443.75 L199.96,453.02 L200.60,453.02 L200.60,445.35 L201.24,445.35 L201.24,456.23 L201.88,456.23 L201.88,445.59 L202.52,445.59 L202.52,457.00 L203.16,457.00 L203.16,445.92 L203.80,445.92 L203.80,456.52 L204.44,456.52 L204.44,451.42 L205.08,451.42 L205.08,457.40 L205.72,457.40 L205.72,451.42 L206.36,451.42 L206.36,460.12 L207.00,460.12 L207.00,452.40 L207.64,452.40 L207.64,459.16 L208.28,459.16 L208.28,454.00 L208.92,454.00 L208.92,462.35 L209.56,462.35 L209.56,457.15 L210.20,457.15 L210.20,461.24 L210.84,461.24 L210.84,459.53 L211.48,459.53 L211.48,462.23 L212.12,462.23 L212.12,460.41 L212.76,460.41 L212.76,463.13 L213.40,463.13 L213.40,461.94 L214.04,461.94 L214.04,464.60 L214.68,464.60 L214.68,463.25 L215.32,463.25 L215.32,465.30 L215.96,465.30 L215.96,464.30 L216.60,464.30 L216.60,465.90 L217.24,465.90 L217.24,465.42 L217.88,465.42 L217.88,466.45 L218.52,466.45 L218.52,466.28 L219.16,466.28 L219.16,467.20 L219.80,467.20 L219.80,467.17 L220.44,467.17 L220.44,467.32 L221.08,467.32 L221.08,467.16 L221.72,467.16 L221.72,467.44 L222.36,467.44 L222.36,467.11 L223.00,467.11 L223.00,467.65 L223.64,467.65 L223.64,467.33 L224.28,467.33 L224.28,467.39 L224.92,467.39 L224.92,467.20 L225.56,467.20 L225.56,467.57 L226.20,467.57 L226.20,467.35 L226.84,467.35 L226.84,467.54 L227.48,467.54 L227.48,467.09 L228.12,467.09 L228.12,467.65 L228.76,467.65 L228.76,467.31 L229.40,467.31 L229.40,467.68 L230.04,467.68 L230.04,467.45 L230.68,467.45 L230.68,467.63 L231.32,467.63 L231.32,467.43 L231.96,467.43 L231.96,467.71 L232.60,467.71 L232.60,467.35 L233.24,467.35 L233.24,467.66 L233.88,467.66 L233.88,467.45 L234.52,467.45 L234.52,467.72 L235.16,467.72 L235.16,467.56 L235.80,467.56 L235.80,467.79 L236.44,467.79 L236.44,467.42 L237.08,467.42 L237.08,467.89 L237.72,467.89 L237.72,467.58 L238.36,467.58 L238.36,467.83 L239.00,467.83 L239.00,467.54 L239.64,467.54 L239.64,467.89 L240.28,467.89 L240.28,467.63 L240.92,467.63 L240.92,467.95 L241.56,467.95 L241.56,467.62 L242.20,467.62 L242.20,467.85 L242.84,467.85 L242.84,467.63 L243.48,467.63 L243.48,467.98 L244.12,467.98 L244.12,467.65 L244.76,467.65 L244.76,467.99 L245.40,467.99 L245.40,467.80 L246.04,467.80 L246.04,468.07 L246.68,468.07 L246.68,467.80 L247.32,467.80 L247.32,467.95 L247.96,467.95 L247.96,467.85 L248.60,467.85 L248.60,467.99 L249.24,467.99 L249.24,467.86 L249.88,467.86 L249.88,468.00 L250.52,468.00 L250.52,467.86 L251.16,467.86 L251.16,468.13 L251.80,468.13 L251.80,467.89 L252.44,467.89 L252.44,468.15 L253.08,468.15 L253.08,467.90 L253.72,467.90 L253.72,468.12 L254.36,468.12 L254.36,468.04 L255.00,468.04 L255.00,468.19 L255.64,468.19 L255.64,467.99 L256.28,467.99 L256.28,468.18 L256.92,468.18 L256.92,467.98 L257.56,467.98 L257.56,468.22 L258.20,468.22 L258.00,468.50" fill="none" stroke="#000" stroke-width="1.0" stroke-linejoin="miter" stroke-dasharray="1.1,1.1"/>
<path d="M120.00,465.50 L120.64,465.50 L120.64,465.84 L121.28,465.84 L121.28,464.15 L121.92,464.15 L121.92,465.14 L122.56,465.14 L122.56,464.04 L123.20,464.04 L123.20,464.32 L123.84,464.32 L123.84,462.56 L124.48,462.56 L124.48,463.84 L125.12,463.84 L125.12,461.95 L125.76,461.95 L125.76,462.37 L126.40,462.37 L126.40,460.07 L127.04,460.07 L127.04,460.22 L127.68,460.22 L127.68,458.44 L128.32,458.44 L128.32,458.11 L128.96,458.11 L128.96,456.37 L129.60,456.37 L129.60,456.53 L130.24,456.53 L130.24,454.79 L130.88,454.79 L130.88,455.12 L131.52,455.12 L131.52,453.50 L132.16,453.50 L132.16,453.74 L132.80,453.74 L132.80,452.85 L133.44,452.85 L133.44,453.03 L134.08,453.03 L134.08,451.41 L134.72,451.41 L134.72,451.90 L135.36,451.90 L135.36,450.95 L136.00,450.95 L136.00,451.06 L136.64,451.06 L136.64,449.92 L137.28,449.92 L137.28,449.32 L137.92,449.32 L137.92,447.54 L138.56,447.54 L138.56,447.26 L139.20,447.26 L139.20,446.25 L139.84,446.25 L139.84,445.90 L140.48,445.90 L140.48,443.45 L141.12,443.45 L141.12,444.05 L141.76,444.05 L141.76,441.11 L142.40,441.11 L142.40,441.04 L143.04,441.04 L143.04,437.99 L143.68,437.99 L143.68,435.78 L144.32,435.78 L144.32,432.36 L144.96,432.36 L144.96,430.45 L145.60,430.45 L145.60,426.84 L146.24,426.84 L146.24,425.90 L146.88,425.90 L146.88,423.25 L147.52,423.25 L147.52,422.34 L148.16,422.34 L148.16,418.39 L148.80,418.39 L148.80,409.93 L149.44,409.93 L149.44,405.98 L150.08,405.98 L150.08,404.14 L150.72,404.14 L150.72,399.77 L151.36,399.77 L151.36,397.51 L152.00,397.51 L152.00,390.84 L152.64,390.84 L152.64,382.49 L153.28,382.49 L153.28,373.56 L153.92,373.56 L153.92,369.02 L154.56,369.02 L154.56,365.52 L155.20,365.52 L155.20,364.71 L155.84,364.71 L155.84,361.20 L156.48,361.20 L156.48,358.37 L157.12,358.37 L157.12,353.26 L157.76,353.26 L157.76,349.38 L158.40,349.38 L158.40,344.56 L159.04,344.56 L159.04,341.84 L159.68,341.84 L159.68,336.74 L160.32,336.74 L160.32,331.89 L160.96,331.89 L160.96,325.11 L161.60,325.11 L161.60,322.00 L162.24,322.00 L162.24,317.96 L162.88,317.96 L162.88,317.93 L163.52,317.93 L163.52,320.70 L164.16,320.70 L164.16,325.23 L164.80,325.23 L164.80,327.45 L165.44,327.45 L165.44,325.88 L166.08,325.88 L166.08,323.77 L166.72,323.77 L166.72,323.29 L167.36,323.29 L167.36,326.41 L168.00,326.41 L168.00,331.28 L168.64,331.28 L168.64,333.46 L169.28,333.46 L169.28,333.76 L169.92,333.76 L169.92,331.82 L170.56,331.82 L170.56,331.36 L171.20,331.36 L171.20,334.15 L171.84,334.15 L171.84,339.96 L172.48,339.96 L172.48,344.85 L173.12,344.85 L173.12,350.49 L173.76,350.49 L173.76,354.90 L174.40,354.90 L174.40,361.18 L175.04,361.18 L175.04,365.08 L175.68,365.08 L175.68,372.12 L176.32,372.12 L176.32,376.48 L176.96,376.48 L176.96,381.22 L177.60,381.22 L177.60,382.05 L178.24,382.05 L178.24,384.80 L178.88,384.80 L178.88,385.90 L179.52,385.90 L179.52,388.61 L180.16,388.61 L180.16,389.55 L180.80,389.55 L180.80,391.76 L181.44,391.76 L181.44,392.52 L182.08,392.52 L182.08,395.17 L182.72,395.17 L182.72,395.48 L183.36,395.48 L183.36,398.26 L184.00,398.26 L184.00,398.56 L184.64,398.56 L184.64,401.11 L185.28,401.11 L185.28,402.48 L185.92,402.48 L185.92,405.73 L186.56,405.73 L186.56,406.52 L187.20,406.52 L187.20,409.71 L187.84,409.71 L187.84,410.82 L188.48,410.82 L188.48,414.08 L189.12,414.08 L189.12,414.64 L189.76,414.64 L189.76,418.03 L190.40,418.03 L190.40,419.44 L191.04,419.44 L191.04,422.08 L191.68,422.08 L191.68,423.40 L192.32,423.40 L192.32,426.01 L192.96,426.01 L192.96,427.25 L193.60,427.25 L193.60,430.24 L194.24,430.24 L194.24,431.52 L194.88,431.52 L194.88,433.88 L195.52,433.88 L195.52,435.26 L196.16,435.26 L196.16,437.84 L196.80,437.84 L196.80,438.29 L197.44,438.29 L197.44,440.88 L198.08,440.88 L198.08,441.77 L198.72,441.77 L198.72,443.99 L199.36,443.99 L199.36,444.77 L200.00,444.77 L200.00,447.70 L200.64,447.70 L200.64,447.61 L201.28,447.61 L201.28,448.96 L201.92,448.96 L201.92,449.69 L202.56,449.69 L202.56,451.81 L203.20,451.81 L203.20,451.70 L203.84,451.70 L203.84,453.98 L204.48,453.98 L204.48,453.74 L205.12,453.74 L205.12,456.69 L205.76,456.69 L205.76,455.71 L206.40,455.71 L206.40,457.49 L207.04,457.49 L207.04,457.82 L207.68,457.82 L207.68,459.52 L208.32,459.52 L208.32,459.14 L208.96,459.14 L208.96,461.10 L209.60,461.10 L209.60,461.38 L210.24,461.38 L210.24,463.47 L210.88,463.47 L210.88,462.61 L211.52,462.61 L211.52,464.35 L212.16,464.35 L212.16,463.29 L212.80,463.29 L212.80,465.07 L213.44,465.07 L213.44,464.53 L214.08,464.53 L214.08,466.85 L214.72,466.85 L214.72,465.83 L215.36,465.83 L215.36,466.51 L216.00,466.51 L216.00,465.93 L216.64,465.93 L216.64,467.07 L217.28,467.07 L217.28,466.69 L217.92,466.69 L217.92,468.44 L218.56,468.44 L218.56,466.90 L219.20,466.90 L219.20,468.50 L219.84,468.50 L219.84,467.57 L220.48,467.57 L220.48,468.50 L221.12,468.50 L221.12,467.24 L221.76,467.24 L221.76,468.50 L222.40,468.50 L222.40,467.11 L223.04,467.11 L223.04,468.50 L223.68,468.50 L223.68,467.39 L224.32,467.39 L224.32,468.50 L224.96,468.50 L224.96,466.99 L225.60,466.99 L225.60,468.50 L226.24,468.50 L226.24,468.17 L226.88,468.17 L226.88,468.44 L227.52,468.44 L227.52,466.98 L228.16,466.98 L228.16,468.50 L228.80,468.50 L228.80,467.79 L229.44,467.79 L229.44,468.50 L230.08,468.50 L230.08,467.72 L230.72,467.72 L230.72,468.50 L231.36,468.50 L231.36,467.95 L232.00,467.95 L232.00,468.50 L232.64,468.50 L232.64,467.53 L233.28,467.53 L233.28,468.50 L233.92,468.50 L233.92,467.39 L234.56,467.39 L234.56,468.30 L235.20,468.30 L235.20,467.90 L235.84,467.90 L235.84,468.50 L236.48,468.50 L236.48,467.91 L237.12,467.91 L237.12,468.50 L237.76,468.50 L237.76,467.39 L238.40,467.39 L238.40,468.50 L239.04,468.50 L239.04,467.07 L239.68,467.07 L239.68,468.50 L240.32,468.50 L240.32,467.81 L240.96,467.81 L240.96,468.50 L241.60,468.50 L241.60,467.58 L242.24,467.58 L242.24,468.50 L242.88,468.50 L242.88,467.98 L243.52,467.98 L243.52,468.50 L244.16,468.50 L244.16,467.54 L244.80,467.54 L244.80,468.50 L245.44,468.50 L245.44,468.00 L246.08,468.00 L246.08,468.50 L246.72,468.50 L246.72,467.76 L247.36,467.76 L247.36,468.50 L248.00,468.50 L248.00,468.42 L248.64,468.42 L248.64,468.46 L249.28,468.46 L249.28,467.79 L249.92,467.79 L249.92,468.50 L250.56,468.50 L250.56,468.50 L251.20,468.50 L251.20,468.50 L251.84,468.50 L251.84,467.89 L252.48,467.89 L252.48,468.50 L253.12,468.50 L253.12,468.01 L253.76,468.01 L253.76,468.15 L254.40,468.15 L254.40,467.77 L255.04,467.77 L255.04,468.50 L255.68,468.50 L255.68,467.39 L256.32,467.39 L256.32,468.50 L256.96,468.50 L256.96,468.17 L257.60,468.17 L257.60,468.50 L258.24,468.50" fill="none" stroke="#000" stroke-width="0.8" stroke-linejoin="miter" />
<path d="M163.00,316.20 L163.50,319.02 L164.00,321.85 L164.50,324.68 L165.00,327.50 L165.50,326.30 L166.00,325.10 L166.50,323.90 L167.00,322.70 L167.50,325.52 L168.00,328.35 L168.50,331.18 L169.00,334.00 L169.50,333.18 L170.00,332.35 L170.50,331.52 L171.00,330.70 L171.50,334.70 L172.00,338.70 L172.50,342.70 L173.00,346.70 L173.50,350.73 L174.00,354.75 L174.50,358.77 L175.00,362.80 L175.50,367.10 L176.00,371.40 L176.50,375.70 L177.00,380.00 L177.50,381.42 L178.00,382.83 L178.50,384.25 L179.00,385.67 L179.50,387.08" fill="none" stroke="#000" stroke-width="2.0" stroke-linejoin="miter" />
<line x1="33.8" y1="328" x2="33.8" y2="468" stroke="#000" stroke-width="1.6" stroke-dasharray="1.2,1.4"/>
<path d="M325.50,455.52 L326.20,455.50 L326.90,453.36 L327.60,451.34 L328.30,454.99 L329.00,455.91 L329.70,456.94 L330.40,456.78 L331.10,457.40 L331.80,456.15 L332.50,458.22 L333.20,457.52 L333.90,458.16 L334.60,457.92 L335.30,454.47 L336.00,451.60 L336.70,449.18 L337.40,446.27 L338.10,443.96 L338.80,442.31 L339.50,439.65 L340.20,437.50 L340.90,436.76 L341.60,434.43 L342.30,432.34 L343.00,431.55 L343.70,430.34 L344.40,428.54 L345.10,427.32 L345.80,427.23 L346.50,426.77 L347.20,425.22 L347.90,424.01 L348.60,423.71 L349.30,423.01 L350.00,421.84 L350.70,421.69 L351.40,421.36 L352.10,420.06 L352.80,419.12 L353.50,419.15 L354.20,418.48 L354.90,418.34 L355.60,416.49 L356.30,416.48 L357.00,416.03 L357.70,415.18 L358.40,415.84 L359.10,415.71 L359.80,414.66 L360.50,415.47 L361.20,414.80 L361.90,414.47 L362.60,414.21 L363.30,414.37 L364.00,412.98 L364.70,413.91 L365.40,413.77 L366.10,412.33 L366.80,413.36 L367.50,412.89 L368.20,413.32 L368.90,412.52 L369.60,412.61 L370.30,412.67 L371.00,411.87 L371.70,412.54 L372.40,412.02 L373.10,412.21 L373.80,411.52 L374.50,412.26 L375.20,411.86 L375.90,411.30 L376.60,411.61 L377.30,411.77 L378.00,411.84 L378.70,409.77 L379.40,410.91 L380.10,410.46 L380.80,409.93 L381.50,409.21 L382.20,410.24 L382.90,408.64 L383.60,409.42 L384.30,409.61 L385.00,407.76 L385.70,408.21 L386.40,407.38 L387.10,407.96 L387.80,408.39 L388.50,408.39 L389.20,406.03 L389.90,406.42 L390.60,406.85 L391.30,407.06 L392.00,406.15 L392.70,405.09 L393.40,405.15 L394.10,404.46 L394.80,403.83 L395.50,403.02 L396.20,403.12 L396.90,402.56 L397.60,401.82 L398.30,401.23 L399.00,400.07 L399.70,399.93 L400.40,400.27 L401.10,398.92 L401.80,397.65 L402.50,398.59 L403.20,397.56 L403.90,397.84 L404.60,396.13 L405.30,395.25 L406.00,394.13 L406.70,395.07 L407.40,395.16 L408.10,392.75 L408.80,392.33 L409.50,392.49 L410.20,391.19 L410.90,390.98 L411.60,390.41 L412.30,390.19 L413.00,390.17 L413.70,389.06 L414.40,389.03 L415.10,387.78 L415.80,387.67 L416.50,385.79 L417.20,385.69 L417.90,386.54 L418.60,385.39 L419.30,385.64 L420.00,385.24 L420.70,385.28 L421.40,384.61 L422.10,384.33 L422.80,383.32 L423.50,382.61 L424.20,382.21 L424.90,381.95 L425.60,381.21 L426.30,381.14 L427.00,380.99 L427.70,380.77 L428.40,380.05 L429.10,378.77 L429.80,379.39 L430.50,379.15 L431.20,379.22 L431.90,378.53 L432.60,377.46 L433.30,377.01 L434.00,378.11 L434.70,377.02 L435.40,377.21 L436.10,377.02 L436.80,375.06 L437.50,375.37 L438.20,375.07 L438.90,374.78 L439.60,374.42 L440.30,373.89 L441.00,373.53 L441.70,372.26 L442.40,372.65 L443.10,371.98 L443.80,372.11 L444.50,371.44 L445.20,371.72 L445.90,371.53 L446.60,370.94 L447.30,370.64 L448.00,370.22 L448.70,369.61 L449.40,369.47 L450.10,368.98 L450.80,369.16 L451.50,368.65 L452.20,368.66 L452.90,367.30 L453.60,368.22 L454.30,367.05 L455.00,366.84 L455.70,366.90 L456.40,366.47 L457.10,366.72 L457.80,366.01 L458.50,365.51 L459.20,365.41 L459.90,366.37 L460.60,365.44 L461.30,364.54 L462.00,364.96 L462.70,363.87 L463.40,365.49 L464.10,363.44 L464.80,364.31 L465.50,364.12 L466.20,362.80 L466.90,363.54 L467.60,363.70 L468.30,363.18 L469.00,362.84 L469.70,362.99 L470.40,362.33 L471.10,362.20 L471.80,361.72 L472.50,361.91 L473.20,360.80 L473.90,361.51 L474.60,360.56 L475.30,359.99 L476.00,360.55 L476.70,361.04 L477.40,360.39 L478.10,359.33 L478.80,359.76 L479.50,358.88 L480.20,358.82 L480.90,358.69 L481.60,357.13 L482.30,358.38 L483.00,357.58 L483.70,357.63 L484.40,357.08 L485.10,356.93 L485.80,357.11 L486.50,357.96 L487.20,358.29 L487.90,357.24 L488.60,357.72 L489.30,356.85 L490.00,355.81 L490.70,356.82 L491.40,356.85 L492.10,356.26" fill="none" stroke="#000" stroke-width="2.8" stroke-linejoin="miter" stroke-linecap="butt"/>
<path d="M325.50,455.50 L326.20,455.33 L326.90,453.10 L327.60,452.02 L328.30,456.04 L329.00,455.54 L329.70,456.28 L330.40,456.08 L331.10,456.93 L331.80,457.72 L332.50,457.35 L333.20,457.85 L333.90,456.74 L334.60,458.08 L335.30,456.19 L336.00,456.35 L336.70,454.67 L337.40,453.56 L338.10,451.87 L338.80,451.09 L339.50,449.98 L340.20,448.45 L340.90,447.78 L341.60,447.42 L342.30,446.57 L343.00,445.99 L343.70,445.59 L344.40,444.76 L345.10,445.12 L345.80,443.39 L346.50,444.29 L347.20,443.06 L347.90,442.68 L348.60,441.81 L349.30,442.04 L350.00,441.55 L350.70,441.37 L351.40,440.72 L352.10,440.85 L352.80,441.58 L353.50,440.58 L354.20,439.82 L354.90,440.45 L355.60,439.63 L356.30,439.81 L357.00,439.60 L357.70,438.83 L358.40,437.77 L359.10,438.49 L359.80,438.85 L360.50,438.20 L361.20,438.52 L361.90,438.68 L362.60,437.70 L363.30,438.54 L364.00,438.62 L364.70,438.19 L365.40,438.10 L366.10,437.92 L366.80,438.45 L367.50,437.21 L368.20,437.01 L368.90,437.24 L369.60,436.31 L370.30,435.85 L371.00,436.12 L371.70,436.71 L372.40,436.66 L373.10,435.46 L373.80,435.16 L374.50,435.94 L375.20,435.93 L375.90,435.93 L376.60,436.24 L377.30,436.47 L378.00,435.84 L378.70,435.96 L379.40,434.94 L380.10,434.82 L380.80,435.51 L381.50,435.67 L382.20,435.60 L382.90,435.43 L383.60,435.43 L384.30,435.35 L385.00,433.84 L385.70,434.30 L386.40,434.85 L387.10,434.83 L387.80,433.57 L388.50,434.95 L389.20,433.96 L389.90,433.96 L390.60,434.12 L391.30,434.27 L392.00,432.96 L392.70,434.18 L393.40,433.57 L394.10,432.99 L394.80,433.15 L395.50,431.98 L396.20,432.71 L396.90,433.06 L397.60,432.46 L398.30,432.55 L399.00,432.50 L399.70,432.44 L400.40,432.82 L401.10,432.08 L401.80,431.78 L402.50,432.06 L403.20,432.74 L403.90,431.24 L404.60,431.55 L405.30,430.24 L406.00,431.68 L406.70,431.14 L407.40,431.34 L408.10,430.41 L408.80,429.71 L409.50,430.60 L410.20,430.35 L410.90,429.25 L411.60,428.71 L412.30,429.56 L413.00,429.01 L413.70,430.33 L414.40,428.34 L415.10,428.18 L415.80,428.20 L416.50,427.13 L417.20,427.35 L417.90,428.53 L418.60,427.35 L419.30,426.88 L420.00,426.30 L420.70,427.18 L421.40,427.08 L422.10,426.72 L422.80,426.23 L423.50,426.47 L424.20,426.37 L424.90,425.65 L425.60,426.22 L426.30,424.58 L427.00,424.89 L427.70,425.29 L428.40,425.26 L429.10,424.54 L429.80,425.22 L430.50,425.48 L431.20,425.00 L431.90,424.74 L432.60,424.92 L433.30,424.55 L434.00,423.56 L434.70,423.93 L435.40,424.61 L436.10,423.13 L436.80,423.65 L437.50,423.26 L438.20,422.83 L438.90,422.63 L439.60,423.10 L440.30,423.07 L441.00,422.93 L441.70,421.82 L442.40,422.31 L443.10,422.52 L443.80,422.70 L444.50,422.41 L445.20,422.35 L445.90,422.34 L446.60,422.04 L447.30,420.99 L448.00,421.31 L448.70,420.74 L449.40,419.67 L450.10,419.90 L450.80,421.82 L451.50,419.91 L452.20,419.14 L452.90,419.90 L453.60,420.90 L454.30,419.91 L455.00,420.05 L455.70,419.56 L456.40,419.55 L457.10,420.17 L457.80,419.80 L458.50,419.20 L459.20,419.63 L459.90,419.61 L460.60,418.79 L461.30,418.94 L462.00,418.82 L462.70,418.20 L463.40,419.07 L464.10,418.19 L464.80,417.79 L465.50,417.06 L466.20,417.14 L466.90,418.52 L467.60,416.91 L468.30,417.62 L469.00,417.03 L469.70,417.36 L470.40,417.26 L471.10,416.35 L471.80,416.47 L472.50,416.53 L473.20,416.39 L473.90,416.16 L474.60,415.85 L475.30,416.22 L476.00,416.44 L476.70,415.86 L477.40,415.01 L478.10,415.48 L478.80,415.14 L479.50,415.21 L480.20,415.82 L480.90,414.53 L481.60,414.49 L482.30,413.91 L483.00,414.14 L483.70,413.88 L484.40,414.98 L485.10,414.16 L485.80,413.58 L486.50,414.85 L487.20,412.96 L487.90,414.07 L488.60,414.05 L489.30,413.71 L490.00,413.14 L490.70,413.12 L491.40,412.90 L492.10,413.43" fill="none" stroke="#000" stroke-width="2.8" stroke-linejoin="miter" stroke-linecap="butt"/>
<line x1="472.5" y1="411.9532462508383" x2="472.5" y2="419.40208323877465" stroke="#000" stroke-width="0.7"/>
<line x1="473.2" y1="413.24945915131104" x2="473.2" y2="417.68349109678616" stroke="#000" stroke-width="0.7"/>
<line x1="473.9" y1="415.40425953156995" x2="473.9" y2="417.8240196858348" stroke="#000" stroke-width="0.7"/>
<line x1="474.59999999999997" y1="413.4793731033348" x2="474.59999999999997" y2="416.6575647121421" stroke="#000" stroke-width="0.7"/>
<line x1="475.29999999999995" y1="415.12577666375546" x2="475.29999999999995" y2="419.36709356258655" stroke="#000" stroke-width="0.7"/>
<line x1="475.99999999999994" y1="411.9555457464079" x2="475.99999999999994" y2="416.9209219093573" stroke="#000" stroke-width="0.7"/>
<line x1="476.69999999999993" y1="412.8904796301787" x2="476.69999999999993" y2="418.98777597108216" stroke="#000" stroke-width="0.7"/>
<line x1="477.3999999999999" y1="410.4246554377181" x2="477.3999999999999" y2="418.4457365910871" stroke="#000" stroke-width="0.7"/>
<line x1="478.0999999999999" y1="412.79884624354355" x2="478.0999999999999" y2="417.23993862141265" stroke="#000" stroke-width="0.7"/>
<line x1="478.7999999999999" y1="411.2252488930186" x2="478.7999999999999" y2="415.7911037910481" stroke="#000" stroke-width="0.7"/>
<line x1="479.4999999999999" y1="411.67854115452684" x2="479.4999999999999" y2="416.2708765527207" stroke="#000" stroke-width="0.7"/>
<line x1="480.1999999999999" y1="409.9060919594124" x2="480.1999999999999" y2="415.4969911380236" stroke="#000" stroke-width="0.7"/>
<line x1="480.89999999999986" y1="410.75626624793665" x2="480.89999999999986" y2="417.762439420026" stroke="#000" stroke-width="0.7"/>
<line x1="481.59999999999985" y1="412.8634073741955" x2="481.59999999999985" y2="417.6863447182424" stroke="#000" stroke-width="0.7"/>
<line x1="482.29999999999984" y1="409.53806112141683" x2="482.29999999999984" y2="414.95459011454915" stroke="#000" stroke-width="0.7"/>
<line x1="482.99999999999983" y1="410.2605990863911" x2="482.99999999999983" y2="414.80167597383746" stroke="#000" stroke-width="0.7"/>
<line x1="483.6999999999998" y1="411.1802955568471" x2="483.6999999999998" y2="416.00711654114235" stroke="#000" stroke-width="0.7"/>
<line x1="484.3999999999998" y1="412.57988966558105" x2="484.3999999999998" y2="415.5709817798807" stroke="#000" stroke-width="0.7"/>
<line x1="485.0999999999998" y1="409.4641156525571" x2="485.0999999999998" y2="415.4445485699058" stroke="#000" stroke-width="0.7"/>
<line x1="485.7999999999998" y1="412.64903785156304" x2="485.7999999999998" y2="416.48976674018576" stroke="#000" stroke-width="0.7"/>
<line x1="486.4999999999998" y1="411.0505487269674" x2="486.4999999999998" y2="416.69008770365866" stroke="#000" stroke-width="0.7"/>
<line x1="487.19999999999976" y1="412.01472540577686" x2="487.19999999999976" y2="415.1516616552626" stroke="#000" stroke-width="0.7"/>
<line x1="487.89999999999975" y1="409.09194852357143" x2="487.89999999999975" y2="415.61255057061635" stroke="#000" stroke-width="0.7"/>
<line x1="488.59999999999974" y1="410.45845960827677" x2="488.59999999999974" y2="414.6989670005722" stroke="#000" stroke-width="0.7"/>
<line x1="489.2999999999997" y1="412.816741675104" x2="489.2999999999997" y2="416.6890947775994" stroke="#000" stroke-width="0.7"/>
<line x1="489.9999999999997" y1="412.3593325830275" x2="489.9999999999997" y2="416.3232419428824" stroke="#000" stroke-width="0.7"/>
<line x1="490.6999999999997" y1="410.8480963054425" x2="490.6999999999997" y2="416.54056894358746" stroke="#000" stroke-width="0.7"/>
<line x1="482.4" y1="384.7" x2="482.4" y2="414" stroke="#000" stroke-width="1.2"/>
<line x1="490.6" y1="330.3" x2="487.5" y2="343" stroke="#000" stroke-width="1.3"/>
<polygon points="486,350.5 483,340.5 492.5,343" fill="#000"/>
<line x1="470.2" y1="439.4" x2="477.5" y2="426" stroke="#000" stroke-width="1.2"/>
<polygon points="481.5,416 474.2,424.5 481.5,429" fill="#000"/>
</svg></body></html>
